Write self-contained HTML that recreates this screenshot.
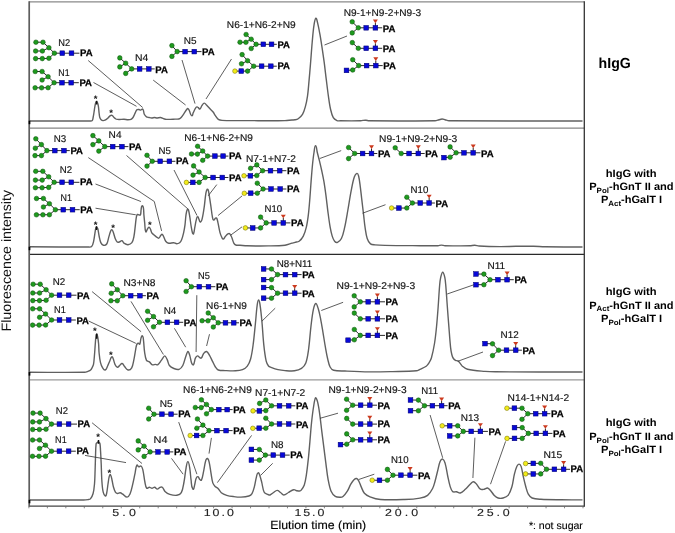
<!DOCTYPE html>
<html><head><meta charset="utf-8"><title>HPLC profiles</title>
<style>
html,body{margin:0;padding:0;background:#fff;}
body{width:675px;height:533px;overflow:hidden;}
svg{display:block;font-family:"Liberation Sans",Arial,Helvetica,sans-serif;text-rendering:geometricPrecision;}
</style></head><body>
<svg width="675" height="533" viewBox="0 0 675 533">
<rect width="675" height="533" fill="#fff"/>
<path d="M29.5,121 C49.47,121 70.04,121.13 90,121 C90.74,121 91.74,121.18 92.2,120.6 C92.97,119.64 92.93,118.2 93.2,117 C93.49,115.69 93.69,114.32 93.9,113 C94.25,110.82 94.5,108.57 94.9,106.4 C95.13,105.13 95.35,103.81 95.8,102.6 C95.93,102.25 96.24,101.72 96.6,101.8 C97.1,101.91 97.41,102.52 97.6,103 C98.02,104.07 98.23,105.26 98.4,106.4 C98.72,108.57 98.83,110.83 99.1,113 C99.29,114.49 99.33,116.07 99.8,117.5 C100.11,118.43 100.7,119.32 101.4,120 C101.81,120.39 102.44,120.57 103,120.6 C103.67,120.64 104.4,120.51 105,120.2 C106.09,119.63 107.08,118.81 108,118 C108.74,117.35 109.19,116.35 110,115.8 C110.56,115.42 111.37,115.03 112,115.3 C112.9,115.68 113.29,116.82 114,117.5 C114.58,118.05 115.2,118.62 115.9,119 C116.38,119.26 116.96,119.32 117.5,119.4 C118.09,119.49 118.71,119.51 119.3,119.5 C120.85,119.48 122.45,119.26 124,119.3 C125.33,119.33 126.67,119.7 128,119.7 C129,119.7 130.09,119.7 131,119.3 C131.81,118.94 132.48,118.22 133,117.5 C133.69,116.54 134.07,115.35 134.6,114.3 C135.35,112.81 135.77,111.03 136.9,109.8 C137.37,109.28 138.3,109.44 139,109.5 C139.56,109.55 140.04,110.16 140.6,110.1 C141.39,110.02 142.27,108.5 142.8,109.1 C143.98,110.44 143.53,112.69 144.3,114.3 C144.78,115.32 145.57,116.27 146.5,116.9 C147.2,117.38 148.17,117.32 149,117.5 C149.89,117.69 150.79,118 151.7,118 C152.67,118 153.63,117.5 154.6,117.5 C155.38,117.5 156.12,118 156.9,118 C158.1,118 159.31,117.37 160.5,117.5 C161.56,117.61 162.48,118.38 163.5,118.7 C164.47,119.01 165.48,119.36 166.5,119.4 C169.31,119.5 172.2,119.25 175,119.1 C176.59,119.02 178.42,119.48 179.8,118.7 C181.45,117.77 182.36,115.82 183.5,114.3 C184.57,112.87 185.39,111.2 186.5,109.8 C186.89,109.3 187.41,108.36 188,108.6 C188.87,108.95 189.07,110.17 189.5,111 C190.29,112.52 190.16,114.95 191.7,115.7 C192.67,116.17 192.72,113.76 193.2,112.8 C193.94,111.32 194.52,109.7 195.4,108.3 C195.76,107.73 196.24,107.06 196.9,106.9 C197.4,106.78 197.89,107.29 198.3,107.6 C198.86,108.02 199.2,109.46 199.8,109.1 C201.02,108.37 201.15,106.54 202,105.4 C202.64,104.54 203.23,103.2 204.3,103.1 C205.26,103.02 205.83,104.32 206.5,105 C207.78,106.3 208.95,107.77 210.2,109.1 C211.13,110.08 212.26,110.94 213.1,112 C213.99,113.13 214.57,114.52 215.4,115.7 C216.29,116.97 217.04,118.5 218.3,119.4 C219.33,120.13 220.74,120.33 222,120.4 C227.93,120.73 234.06,120.57 240,120.6 C251.88,120.67 264.12,120.7 276,120.7 C278.97,120.7 282.03,120.73 285,120.6 C287.32,120.5 289.69,120.18 292,120 C292.99,119.92 294.03,120 295,119.8 C296.09,119.57 297.29,119.35 298.2,118.7 C299.83,117.53 301.47,116.12 302.5,114.4 C303.86,112.14 304.6,109.45 305.3,106.9 C306.26,103.39 306.98,99.7 307.5,96.1 C308.21,91.18 308.54,86.05 309,81.1 C309.53,75.39 310.03,69.51 310.5,63.8 C311.08,56.71 311.56,49.39 312.2,42.3 C312.71,36.62 313.13,30.74 314,25.1 C314.36,22.77 314.99,18.75 315.9,18.2 C316.53,17.81 317.2,21.3 317.6,22.9 C318.49,26.43 319.15,30.12 319.8,33.7 C320.57,37.94 321.25,42.34 321.9,46.6 C322.66,51.58 323.44,56.71 324.1,61.7 C324.85,67.37 325.49,73.23 326.2,78.9 C326.91,84.58 327.59,90.44 328.4,96.1 C329.01,100.37 329.55,104.79 330.5,109 C331.17,111.94 331.83,115.07 333.3,117.7 C334.06,119.05 335.59,119.95 337,120.6 C337.9,121.02 339.01,120.79 340,120.8 C346.6,120.86 353.4,120.91 360,120.8 C361,120.78 362,120.48 363,120.4 C363.99,120.32 365.01,120.23 366,120.3 C367,120.37 368,120.79 369,120.8 C390.78,120.96 413.22,121.11 435,120.8 C436.36,120.78 437.68,120.14 439,119.8 C439.99,119.54 440.98,119.02 442,119 C443.02,118.98 444.02,119.45 445,119.7 C446.33,120.04 447.63,120.79 449,120.8 C493.05,121.22 538.45,120.93 582.5,121" fill="none" stroke="#606060" stroke-width="1.4" stroke-linejoin="round"/>
<path d="M29.5,246.8 C48.8,246.87 68.69,247.06 88,247 C89.2,247 90.76,247.45 91.6,246.6 C92.91,245.27 93.15,243.11 93.6,241.3 C94.24,238.74 94.46,236.01 94.9,233.4 C95.22,231.52 95.33,229.52 95.9,227.7 C96,227.39 96.52,227.14 96.8,227.3 C97.31,227.6 97.65,228.22 97.8,228.8 C98.42,231.13 98.59,233.64 99.1,236 C99.58,238.2 99.86,240.56 100.8,242.6 C101.32,243.72 102.2,245.01 103.4,245.3 C104.54,245.57 106.05,244.97 106.7,244 C107.97,242.11 108.04,239.58 108.7,237.4 C109.23,235.65 109.65,233.81 110.3,232.1 C110.61,231.29 110.75,229.99 111.6,229.8 C112.31,229.64 112.72,230.83 113,231.5 C113.96,233.8 114.37,236.38 115.3,238.7 C115.77,239.87 116.23,241.2 117.2,242 C117.73,242.44 118.63,242.18 119.3,242 C120.25,241.74 121.04,240.46 122,240.7 C123.02,240.96 123.12,242.61 124,243.2 C125.17,243.98 126.59,244.79 128,244.7 C129.44,244.61 131.04,243.86 131.9,242.7 C133.14,241.02 133.5,238.75 133.9,236.7 C134.66,232.82 134.9,228.73 135.4,224.8 C135.73,222.19 135.9,219.48 136.4,216.9 C136.57,216.03 136.71,214.96 137.4,214.4 C137.81,214.07 138.39,214.81 138.9,214.9 C139.39,214.98 140.2,215.35 140.4,214.9 C141.07,213.38 140.79,211.54 141.1,209.9 C141.35,208.56 141.07,206.79 142.1,205.9 C142.69,205.38 143.25,207.13 143.4,207.9 C143.85,210.17 143.7,212.59 143.9,214.9 C144.13,217.51 144.41,220.2 144.7,222.8 C145.03,225.77 144.69,229.02 145.8,231.8 C146.16,232.69 146.74,230.08 147.3,229.3 C147.8,228.59 148.15,227.44 149,227.3 C149.65,227.19 150,228.22 150.3,228.8 C150.94,230.06 151.09,231.58 151.8,232.8 C152.27,233.61 153.1,234.18 153.8,234.8 C154.59,235.5 155.43,236.21 156.3,236.8 C157.08,237.33 157.9,238.5 158.8,238.2 C159.9,237.83 160.04,236.18 160.8,235.3 C161.17,234.87 161.69,234.05 162.2,234.3 C163.04,234.71 163.28,235.87 163.7,236.7 C164.44,238.15 164.71,239.91 165.7,241.2 C166.43,242.14 167.53,242.98 168.7,243.2 C170.33,243.51 172.04,242.6 173.7,242.7 C174.74,242.77 175.66,243.7 176.7,243.7 C177.71,243.7 178.82,243.34 179.6,242.7 C180.52,241.95 181.15,240.8 181.6,239.7 C182.49,237.5 183.07,235.11 183.6,232.8 C184.2,230.19 184.64,227.46 185,224.8 C185.47,221.31 185.54,217.67 186.1,214.2 C186.37,212.51 186.65,210.69 187.5,209.2 C187.71,208.83 188.38,209.6 188.5,210 C189.16,212.19 189.43,214.54 189.8,216.8 C190.29,219.83 190.6,222.98 191.1,226 C191.49,228.32 191.82,230.75 192.5,233 C192.63,233.42 193.33,234.31 193.5,233.9 C194.33,231.84 194.36,229.48 194.8,227.3 C195.32,224.69 195.69,221.96 196.4,219.4 C196.66,218.48 196.74,216.8 197.7,216.8 C198.66,216.8 198.53,218.56 199,219.4 C199.49,220.28 199.66,222.37 200.6,222 C201.91,221.49 201.98,219.47 202.3,218.1 C203.21,214.26 203.74,210.21 204.3,206.3 C204.93,201.96 205.17,197.43 205.9,193.1 C206.13,191.76 206.39,190.29 207.2,189.2 C207.45,188.86 208.07,189.6 208.2,190 C208.79,191.86 208.98,193.88 209.3,195.8 C209.87,199.26 210.39,202.83 210.9,206.3 C211.41,209.76 211.7,213.37 212.4,216.8 C212.63,217.95 212.62,219.65 213.7,220.1 C214.52,220.44 214.72,218.53 215.5,218.1 C215.89,217.89 216.61,218 216.8,218.4 C217.55,219.93 217.73,221.74 218.1,223.4 C218.78,226.42 219.19,229.61 220,232.6 C220.48,234.37 221.17,236.16 222,237.8 C222.27,238.34 222.74,239.32 223.3,239.1 C224.31,238.7 224.58,237.31 225.3,236.5 C226.1,235.59 226.84,234.5 227.9,233.9 C228.47,233.58 229.43,233.44 229.9,233.9 C230.94,234.91 231.34,236.47 231.9,237.8 C232.63,239.51 232.92,241.47 233.8,243.1 C234.23,243.9 234.94,244.71 235.8,245 C237.11,245.45 238.62,245.1 240,245.2 C242.31,245.37 244.68,245.74 247,245.8 C254.03,245.97 261.27,246.01 268.3,245.9 C273.82,245.81 279.52,245.82 285,245.2 C287.39,244.93 289.69,243.87 292,243.2 C292.99,242.91 294.01,242.58 295,242.3 C296.35,241.92 297.98,242.04 299.1,241.2 C300.85,239.9 302.31,238.04 303.3,236.1 C304.76,233.21 305.66,229.95 306.4,226.8 C307.35,222.77 307.9,218.51 308.4,214.4 C309.06,208.97 309.45,203.35 309.9,197.9 C310.35,192.46 310.67,186.84 311.1,181.4 C311.53,175.92 311.95,170.27 312.5,164.8 C312.91,160.73 313.34,156.54 314,152.5 C314.37,150.26 314.58,145.8 315.6,145.8 C316.63,145.8 316.74,150.29 317.3,152.5 C317.99,155.21 318.74,157.99 319.4,160.7 C320.22,164.09 321.06,167.59 321.8,171 C322.54,174.42 323.32,177.95 323.9,181.4 C324.7,186.13 325.37,191.04 326,195.8 C326.72,201.24 327.28,206.86 328,212.3 C328.63,217.09 329.26,222.04 330.1,226.8 C330.65,229.9 331.26,233.1 332.2,236.1 C332.75,237.88 333.39,239.79 334.6,241.2 C335.27,241.98 336.55,242.68 337.5,242.3 C339.17,241.64 340.61,240.12 341.4,238.5 C343.03,235.16 343.77,231.32 344.6,227.7 C345.89,222.07 346.79,216.18 347.8,210.5 C348.94,204.11 349.86,197.48 351.1,191.1 C352.01,186.42 352.81,181.53 354.3,177 C354.76,175.61 355.47,173.73 356.9,173.4 C357.9,173.17 358.35,175.01 358.6,176 C359.49,179.5 359.82,183.22 360.3,186.8 C360.87,191.05 361.3,195.44 361.8,199.7 C362.39,204.68 363.01,209.82 363.6,214.8 C364.1,219.06 364.46,223.46 365.1,227.7 C365.65,231.29 366.05,235.06 367.2,238.5 C367.86,240.48 368.89,242.58 370.5,243.9 C371.68,244.86 373.49,244.74 375,244.9 C378.29,245.24 381.7,245.34 385,245.4 C396.55,245.61 408.45,245.63 420,245.7 C425.94,245.73 432.06,245.87 438,245.7 C439.14,245.67 440.26,245.08 441.4,245.1 C442.61,245.12 443.79,245.77 445,245.8 C453.25,245.97 461.75,245.84 470,245.7 C471.59,245.67 473.21,245.25 474.8,245.3 C476.2,245.35 477.6,245.93 479,246 C485.92,246.36 493.07,246.54 500,246.6 C505.28,246.64 510.72,246.35 516,246.3 C521.81,246.25 527.79,246.2 533.6,246.3 C537.37,246.36 541.23,246.75 545,246.8 C557.37,246.98 570.12,246.93 582.5,247" fill="none" stroke="#606060" stroke-width="1.4" stroke-linejoin="round"/>
<path d="M29.5,372.3 C47.72,372.3 66.49,372.61 84.7,372.3 C85.84,372.28 86.94,371.71 88,371.3 C88.89,370.95 89.89,370.64 90.6,370 C91.33,369.34 91.75,368.37 92.2,367.5 C92.71,366.51 93.29,365.49 93.5,364.4 C94.02,361.66 94.16,358.78 94.4,356 C94.75,351.98 94.97,347.82 95.3,343.8 C95.54,340.89 95.65,337.88 96.1,335 C96.15,334.65 96.58,333.93 96.8,334.2 C97.41,334.96 97.52,336.05 97.7,337 C98.12,339.22 98.4,341.55 98.6,343.8 C98.87,346.83 98.79,349.97 99.1,353 C99.42,356.19 99.74,359.49 100.5,362.6 C100.97,364.54 101.73,366.51 102.8,368.2 C103.33,369.04 104.28,370.37 105.2,370 C106.53,369.46 106.85,367.58 107.5,366.3 C108.41,364.51 109.06,362.53 109.9,360.7 C110.48,359.43 110.58,357.6 111.8,356.9 C112.47,356.51 112.89,358.08 113.2,358.8 C113.96,360.59 114.14,362.66 115,364.4 C115.55,365.51 116.18,367.04 117.4,367.3 C118.36,367.5 118.93,366.02 119.7,365.4 C120.49,364.76 121.11,363.31 122.1,363.5 C123.27,363.72 123.6,365.41 124.4,366.3 C125.54,367.56 126.33,369.66 128,370 C129.39,370.29 131,369.04 131.7,367.8 C133.08,365.36 133.31,362.34 133.9,359.6 C134.63,356.23 135.04,352.69 135.7,349.3 C136.03,347.57 136.13,345.69 136.9,344.1 C137.17,343.54 137.98,343.3 138.6,343.3 C139.08,343.3 139.6,344.53 139.8,344.1 C140.65,342.27 140.37,340.02 141,338.1 C141.27,337.27 141.85,335.31 142.5,335.9 C143.62,336.93 143.31,338.89 143.5,340.4 C144,344.28 144.02,348.33 144.6,352.2 C145.01,354.95 145.27,357.91 146.5,360.4 C146.98,361.37 148.54,361.26 149.4,361.9 C150.5,362.72 151.13,364.27 152.4,364.8 C153.32,365.18 154.4,364.4 155.4,364.4 C156.14,364.4 156.99,365.21 157.6,364.8 C159.17,363.74 160.12,361.88 161.3,360.4 C162.46,358.95 163.87,356.01 164.7,355.9 C165.36,355.81 166.55,358.28 167.2,359.6 C168.11,361.47 168.15,363.84 169.4,365.5 C170.47,366.93 172.24,367.85 173.9,368.5 C175.52,369.13 177.45,369.85 179.1,369.3 C180.76,368.74 181.99,367.05 182.8,365.5 C184.22,362.79 184.64,359.57 185.7,356.7 C186.35,354.94 187.17,351.66 188,351.5 C188.7,351.37 189.43,354.39 189.9,355.9 C190.65,358.3 190.78,360.96 191.7,363.3 C191.97,364 192.97,365.41 193.4,364.8 C194.74,362.92 194.42,360.19 195.4,358.1 C195.84,357.17 196.59,356.08 197.6,355.9 C198.36,355.77 198.74,357 199.4,357.4 C199.97,357.74 200.8,358.55 201.3,358.1 C202.51,357.01 202.5,354.98 203.5,353.7 C204.26,352.74 205.31,351.2 206.5,351.5 C208,351.88 208.59,353.88 209.4,355.2 C210.54,357.06 211.41,359.15 212.4,361.1 C213.39,363.05 214.19,365.18 215.4,367 C216.16,368.15 217.01,369.52 218.3,370 C220.38,370.78 222.78,370.5 225,370.6 C228.46,370.76 232.04,371 235.5,370.8 C237.84,370.67 240.32,370.47 242.5,369.6 C244.32,368.87 246.11,367.66 247.3,366.1 C248.87,364.05 249.92,361.49 250.6,359 C251.84,354.47 252.47,349.65 253.1,345 C254.06,337.93 254.67,330.6 255.4,323.5 C256.03,317.4 256.38,311.08 257.2,305 C257.43,303.27 257.82,300.01 258.6,299.9 C259.32,299.8 259.75,303 260,304.6 C260.84,310.05 261.38,315.71 261.9,321.2 C262.64,328.98 262.96,337.03 263.8,344.8 C264.38,350.24 265.02,355.86 266.2,361.2 C266.58,362.91 267.41,364.62 268.5,366 C269.08,366.73 270.13,366.97 271,367.3 C273.27,368.16 275.63,369.04 278,369.6 C280.27,370.14 282.67,370.43 285,370.6 C288.13,370.83 291.39,371.21 294.5,370.8 C296.92,370.48 299.49,369.79 301.5,368.4 C303.37,367.11 304.99,365.13 305.8,363 C307.36,358.9 307.89,354.34 308.5,350 C309.61,342.11 310.05,333.91 311,326 C311.66,320.5 312.25,314.81 313.4,309.4 C313.84,307.34 314.87,303.67 315.8,303.5 C316.61,303.35 317.65,306.75 318.2,308.5 C319.24,311.83 319.92,315.38 320.6,318.8 C321.5,323.33 322.23,328.04 323,332.6 C323.81,337.41 324.54,342.39 325.4,347.2 C326.1,351.11 326.78,355.14 327.7,359 C328.34,361.68 328.82,364.56 330.1,367 C330.83,368.38 332.09,369.79 333.6,370.2 C337.24,371.18 341.23,370.82 345,371 C352.95,371.38 361.14,371.8 369.1,371.9 C376.92,372 384.98,371.78 392.8,371.6 C400.59,371.42 408.64,371.46 416.4,370.8 C417.68,370.69 418.83,369.85 420,369.3 C422.07,368.33 424.35,367.54 426.2,366.2 C427.38,365.35 428.22,364.03 429,362.8 C429.95,361.3 430.91,359.7 431.4,358 C432.74,353.29 433.71,348.33 434.5,343.5 C435.39,338.09 435.96,332.46 436.5,327 C437.18,320.18 437.69,313.13 438.2,306.3 C438.71,299.51 439.01,292.49 439.6,285.7 C439.84,282.95 440.08,280.09 440.7,277.4 C441.11,275.61 441.87,272.2 442.7,272.2 C443.53,272.2 444.39,275.6 444.8,277.4 C445.42,280.09 445.56,282.95 445.8,285.7 C446.39,292.49 446.79,299.5 447.3,306.3 C447.81,313.13 448.35,320.17 448.9,327 C449.44,333.8 449.88,340.82 450.6,347.6 C450.84,349.9 451.26,352.25 451.8,354.5 C452.09,355.7 452.44,356.96 453.1,358 C453.69,358.92 454.56,359.73 455.5,360.3 C456.29,360.78 457.43,360.58 458.2,361.1 C459.11,361.71 459.7,362.75 460.4,363.6 C461.09,364.44 461.56,365.52 462.4,366.2 C463.94,367.43 465.58,368.86 467.5,369.3 C473.17,370.6 479.21,370.88 485,371.4 C488.45,371.71 492.03,371.78 495.5,371.8 C524.21,371.98 553.79,371.93 582.5,372" fill="none" stroke="#606060" stroke-width="1.4" stroke-linejoin="round"/>
<path d="M29.5,500 C47.35,500 65.75,500.12 83.6,500 C85.06,499.99 86.56,499.83 88,499.6 C88.81,499.47 89.87,499.53 90.4,498.9 C91.68,497.37 92.57,495.42 93.1,493.5 C93.94,490.44 94.23,487.16 94.5,484 C94.89,479.56 94.93,474.96 95.1,470.5 C95.26,466.05 95.33,461.45 95.5,457 C95.66,452.64 95.59,448.13 96.1,443.8 C96.16,443.27 96.79,442.94 97.2,442.6 C97.59,442.28 98.02,441.64 98.5,441.8 C99.19,442.03 99.73,442.79 99.9,443.5 C100.42,445.69 100.36,448.05 100.5,450.3 C100.79,454.75 101,459.34 101.2,463.8 C101.46,469.61 101.49,475.6 101.9,481.4 C102.15,484.98 102.39,488.7 103.2,492.2 C103.52,493.6 103.96,495.49 105.3,496 C106.17,496.33 106.4,494.41 106.6,493.5 C107.3,490.41 107.51,487.13 108,484 C108.4,481.42 108.65,478.73 109.3,476.2 C109.46,475.58 110.03,474.08 110.4,474.6 C111.48,476.12 111.56,478.2 112,480 C112.55,482.22 112.78,484.59 113.4,486.8 C113.91,488.63 114.43,490.57 115.4,492.2 C115.8,492.88 116.62,493.4 117.4,493.5 C118.31,493.62 119.19,492.68 120.1,492.8 C121.1,492.93 121.94,493.67 122.8,494.2 C124.26,495.1 125.39,497.15 127.1,497.1 C128.5,497.06 129.41,495.27 130,494 C131.21,491.38 131.72,488.4 132.4,485.6 C133.4,481.5 134.2,477.22 135.1,473.1 C135.68,470.46 135.54,467.44 136.9,465.1 C137.32,464.37 137.88,466.72 138.7,466.9 C139.5,467.07 140.32,465.55 141,466 C142.11,466.73 142.49,468.31 142.8,469.6 C143.78,473.63 144.05,477.94 144.9,482 C145.34,484.09 145.34,486.56 146.7,488.2 C147.28,488.9 148.39,487.3 149.3,487.3 C150.24,487.3 151.06,488.2 152,488.2 C152.94,488.2 153.77,487.14 154.7,487.3 C155.73,487.47 156.26,489.1 157.3,489.1 C158.37,489.1 158.99,487.66 160,487.3 C160.71,487.04 161.72,486.81 162.3,487.3 C163.66,488.46 164,490.57 165.3,491.8 C166.55,492.98 168.16,493.9 169.8,494.4 C172.06,495.08 174.56,495.65 176.9,495.3 C178.57,495.05 180.51,494.19 181.3,492.7 C183.01,489.49 183.31,485.58 184,482 C184.9,477.35 185.21,472.45 186.1,467.8 C186.5,465.71 186.94,461.6 187.9,461.6 C188.86,461.6 189.34,465.7 189.7,467.8 C190.4,471.86 190.49,476.13 191.1,480.2 C191.55,483.16 191.03,486.76 192.9,489.1 C193.88,490.33 194.25,486.2 194.7,484.7 C195.31,482.66 195.31,480.38 196.1,478.4 C196.4,477.64 197.11,476.5 197.9,476.7 C198.89,476.96 198.88,478.58 199.6,479.3 C200.07,479.77 201.1,480.79 201.4,480.2 C202.75,477.49 202.95,474.25 203.6,471.3 C204.37,467.82 204.66,464.11 205.7,460.7 C205.97,459.8 206.66,458.09 207.5,458.5 C208.76,459.11 208.87,461.03 209.2,462.4 C210.03,465.88 210.38,469.57 211,473.1 C211.57,476.34 211.83,479.76 212.8,482.9 C213.21,484.22 214.15,485.39 215.1,486.4 C215.83,487.18 217.05,487.44 217.8,488.2 C219.12,489.54 219.83,491.53 221.3,492.7 C222.85,493.93 224.81,494.71 226.7,495.3 C228.97,496.01 231.44,496.3 233.8,496.6 C236.16,496.9 238.62,497.19 241,497.1 C243.63,497 246.39,496.8 248.9,496 C250.13,495.61 251.35,494.72 252,493.6 C253.23,491.49 253.77,488.96 254.4,486.6 C255.23,483.5 255.56,480.19 256.4,477.1 C256.79,475.66 256.76,473.57 258.1,472.9 C258.99,472.45 259.44,474.47 259.8,475.4 C260.68,477.7 261.18,480.21 261.8,482.6 C262.63,485.76 262.69,489.3 264.2,492.2 C264.88,493.5 266.68,493.86 268,494.5 C268.61,494.8 269.36,495.23 270,495 C271.33,494.51 272.3,493.26 273.5,492.5 C274.68,491.74 275.8,490.4 277.2,490.4 C278.49,490.4 279.44,491.76 280.5,492.5 C281.62,493.28 282.43,495 283.8,495 C285.56,495 286.95,493.33 288.5,492.5 C290.22,491.58 291.79,490.08 293.7,489.7 C294.86,489.47 295.95,490.54 297.1,490.8 C297.88,490.97 298.72,491.13 299.5,491 C300.13,490.89 300.8,490.6 301.2,490.1 C302.43,488.56 303.67,486.87 304.3,485 C305.41,481.68 305.87,478.06 306.4,474.6 C307.23,469.18 307.82,463.55 308.4,458.1 C308.98,452.66 309.42,447.05 309.9,441.6 C310.44,435.46 310.85,429.13 311.5,423 C312.08,417.54 312.72,411.92 313.6,406.5 C314.07,403.59 314.66,398.74 315.6,397.8 C316.13,397.27 317.3,400.78 317.7,402.4 C318.7,406.43 319.22,410.69 319.8,414.8 C320.57,420.23 321.12,425.86 321.8,431.3 C322.48,436.75 323.21,442.36 323.9,447.8 C324.59,453.25 325.28,458.86 326,464.3 C326.63,469.09 327.1,474.05 328,478.8 C328.79,482.94 329.48,487.31 331.1,491.2 C331.94,493.21 333.49,495.08 335.3,496.3 C336.61,497.18 338.42,497.16 340,497.2 C341.02,497.23 342.22,497.15 343,496.5 C344.82,494.98 346.23,492.9 347.5,490.9 C348.82,488.82 349.54,486.32 350.8,484.2 C351.76,482.58 352.87,480.93 354.2,479.6 C354.79,479.01 355.69,478.28 356.5,478.5 C357.51,478.77 358.18,479.89 358.7,480.8 C359.69,482.54 360.17,484.58 361,486.4 C362.05,488.68 362.76,491.3 364.4,493.2 C365.84,494.86 367.95,496 370,496.8 C373.33,498.1 376.93,499.22 380.5,499.5 C388.46,500.12 396.72,499.78 404.7,499.5 C409.77,499.32 415.01,498.99 420,498.1 C422.62,497.63 425.48,497.01 427.6,495.4 C429.84,493.7 431.3,490.99 432.6,488.5 C433.81,486.19 434.38,483.51 435.1,481 C436.03,477.73 436.75,474.29 437.6,471 C438.4,467.89 438.84,464.55 440.1,461.6 C440.57,460.51 441.59,458.67 442.7,459.1 C444.28,459.72 444.72,461.97 445.2,463.6 C446.38,467.6 446.81,471.92 447.7,476 C448.46,479.51 449.1,483.18 450.2,486.6 C450.76,488.36 451.28,490.43 452.7,491.6 C453.67,492.4 455.27,491.57 456.5,491.8 C457.79,492.04 459.04,493.36 460.3,493 C462.27,492.44 463.77,490.67 465.3,489.3 C467.11,487.69 468.63,485.66 470.4,484 C471.31,483.15 472.15,481.66 473.4,481.7 C474.74,481.74 475.69,483.22 476.6,484.2 C478.01,485.72 478.67,488.06 480.4,489.2 C481.45,489.89 482.96,489.41 484.2,489.2 C485.34,489.01 486.37,487.77 487.5,488 C488.76,488.26 489.63,489.55 490.5,490.5 C491.88,492.01 492.84,493.96 494.3,495.4 C495.38,496.47 496.64,497.57 498.1,498 C499.68,498.47 501.5,498.42 503.1,498 C504.9,497.53 506.95,496.86 508.1,495.4 C510.02,492.96 511.02,489.77 511.9,486.8 C513.11,482.74 513.4,478.32 514.4,474.2 C515.05,471.54 515.77,468.79 516.9,466.3 C517.32,465.39 518,464.03 519,464.1 C520.1,464.18 520.85,465.56 521.2,466.6 C522.3,469.82 522.54,473.38 523.3,476.7 C524.06,480.05 524.86,483.5 525.8,486.8 C526.51,489.28 527.04,491.95 528.3,494.2 C529.17,495.75 530.46,497.33 532.1,498 C534.82,499.1 537.97,499.12 540.9,499.3 C547.52,499.71 554.37,499.7 561,499.8 C568.09,499.9 575.4,499.87 582.5,499.9" fill="none" stroke="#606060" stroke-width="1.4" stroke-linejoin="round"/>
<line x1="96.6" y1="100.8" x2="96.6" y2="104.5" stroke="#111" stroke-width="1.5"/>
<line x1="96.5" y1="226.2" x2="96.5" y2="230" stroke="#111" stroke-width="1.5"/>
<line x1="96.7" y1="333.6" x2="96.7" y2="338.8" stroke="#111" stroke-width="1.5"/>
<line x1="98.5" y1="440" x2="98.5" y2="443.8" stroke="#111" stroke-width="1.5"/>
<line x1="29.2" y1="1.8" x2="584.3" y2="1.8" stroke="#8a8a8a" stroke-width="1.2"/>
<line x1="29.2" y1="128.1" x2="584.3" y2="128.1" stroke="#858585" stroke-width="1.3"/>
<line x1="29.2" y1="254.3" x2="584.3" y2="254.3" stroke="#2a2a2a" stroke-width="1.2"/>
<line x1="29.2" y1="379.9" x2="584.3" y2="379.9" stroke="#9a9a9a" stroke-width="1.4"/>
<line x1="29.2" y1="506.2" x2="584.3" y2="506.2" stroke="#444" stroke-width="1.2"/>
<line x1="29.2" y1="1.2" x2="29.2" y2="506.8" stroke="#5e5e5e" stroke-width="1.7"/>
<line x1="29.5" y1="120.7" x2="29.5" y2="124.2" stroke="#000" stroke-width="1.7"/>
<line x1="29.5" y1="246.7" x2="29.5" y2="250.2" stroke="#000" stroke-width="1.7"/>
<line x1="29.5" y1="372.09999999999997" x2="29.5" y2="375.59999999999997" stroke="#000" stroke-width="1.7"/>
<line x1="29.5" y1="499.8" x2="29.5" y2="503.3" stroke="#000" stroke-width="1.7"/>
<line x1="584.3" y1="1.2" x2="584.3" y2="506.8" stroke="#333" stroke-width="1.3"/>
<line x1="28.9" y1="506.3" x2="28.9" y2="508.3" stroke="#666" stroke-width="0.8"/>
<line x1="47.37" y1="506.3" x2="47.37" y2="508.3" stroke="#666" stroke-width="0.8"/>
<line x1="65.84" y1="506.3" x2="65.84" y2="508.3" stroke="#666" stroke-width="0.8"/>
<line x1="84.31" y1="506.3" x2="84.31" y2="508.3" stroke="#666" stroke-width="0.8"/>
<line x1="102.78" y1="506.3" x2="102.78" y2="508.3" stroke="#666" stroke-width="0.8"/>
<line x1="121.25" y1="506.3" x2="121.25" y2="508.3" stroke="#666" stroke-width="0.8"/>
<line x1="139.72" y1="506.3" x2="139.72" y2="508.3" stroke="#666" stroke-width="0.8"/>
<line x1="158.19" y1="506.3" x2="158.19" y2="508.3" stroke="#666" stroke-width="0.8"/>
<line x1="176.66" y1="506.3" x2="176.66" y2="508.3" stroke="#666" stroke-width="0.8"/>
<line x1="195.13" y1="506.3" x2="195.13" y2="508.3" stroke="#666" stroke-width="0.8"/>
<line x1="213.6" y1="506.3" x2="213.6" y2="508.3" stroke="#666" stroke-width="0.8"/>
<line x1="232.07" y1="506.3" x2="232.07" y2="508.3" stroke="#666" stroke-width="0.8"/>
<line x1="250.54" y1="506.3" x2="250.54" y2="508.3" stroke="#666" stroke-width="0.8"/>
<line x1="269.01" y1="506.3" x2="269.01" y2="508.3" stroke="#666" stroke-width="0.8"/>
<line x1="287.48" y1="506.3" x2="287.48" y2="508.3" stroke="#666" stroke-width="0.8"/>
<line x1="305.95" y1="506.3" x2="305.95" y2="508.3" stroke="#666" stroke-width="0.8"/>
<line x1="324.42" y1="506.3" x2="324.42" y2="508.3" stroke="#666" stroke-width="0.8"/>
<line x1="342.89" y1="506.3" x2="342.89" y2="508.3" stroke="#666" stroke-width="0.8"/>
<line x1="361.36" y1="506.3" x2="361.36" y2="508.3" stroke="#666" stroke-width="0.8"/>
<line x1="379.83" y1="506.3" x2="379.83" y2="508.3" stroke="#666" stroke-width="0.8"/>
<line x1="398.3" y1="506.3" x2="398.3" y2="508.3" stroke="#666" stroke-width="0.8"/>
<line x1="416.77" y1="506.3" x2="416.77" y2="508.3" stroke="#666" stroke-width="0.8"/>
<line x1="435.24" y1="506.3" x2="435.24" y2="508.3" stroke="#666" stroke-width="0.8"/>
<line x1="453.71" y1="506.3" x2="453.71" y2="508.3" stroke="#666" stroke-width="0.8"/>
<line x1="472.18" y1="506.3" x2="472.18" y2="508.3" stroke="#666" stroke-width="0.8"/>
<line x1="490.65" y1="506.3" x2="490.65" y2="508.3" stroke="#666" stroke-width="0.8"/>
<line x1="509.12" y1="506.3" x2="509.12" y2="508.3" stroke="#666" stroke-width="0.8"/>
<line x1="527.59" y1="506.3" x2="527.59" y2="508.3" stroke="#666" stroke-width="0.8"/>
<line x1="546.06" y1="506.3" x2="546.06" y2="508.3" stroke="#666" stroke-width="0.8"/>
<line x1="564.53" y1="506.3" x2="564.53" y2="508.3" stroke="#666" stroke-width="0.8"/>
<line x1="583" y1="506.3" x2="583" y2="508.3" stroke="#666" stroke-width="0.8"/>
<text x="91.97" y="515.6" font-size="10.2" transform="scale(1.22 1)" textLength="19.51" lengthAdjust="spacing" fill="#222" stroke="#222" stroke-width="0.12">5.0</text>
<text x="166.97" y="515.6" font-size="10.2" transform="scale(1.22 1)" textLength="24.75" lengthAdjust="spacing" fill="#222" stroke="#222" stroke-width="0.12">10.0</text>
<text x="241.31" y="515.6" font-size="10.2" transform="scale(1.22 1)" textLength="24.59" lengthAdjust="spacing" fill="#222" stroke="#222" stroke-width="0.12">15.0</text>
<text x="315.49" y="515.6" font-size="10.2" transform="scale(1.22 1)" textLength="27.21" lengthAdjust="spacing" fill="#222" stroke="#222" stroke-width="0.12">20.0</text>
<text x="391.07" y="515.6" font-size="10.2" transform="scale(1.22 1)" textLength="26.72" lengthAdjust="spacing" fill="#222" stroke="#222" stroke-width="0.12">25.0</text>
<text x="270.2" y="528.7" font-size="11.8" textLength="96" lengthAdjust="spacingAndGlyphs" stroke="#000" stroke-width="0.15">Elution time (min)</text>
<text x="528.9" y="528.8" font-size="10.4" textLength="54" lengthAdjust="spacingAndGlyphs" stroke="#000" stroke-width="0.12">*: not sugar</text>
<text x="0" y="0" font-size="13.6" textLength="141.6" lengthAdjust="spacingAndGlyphs" fill="#111" transform="translate(11.3,331.5) rotate(-90)">Fluorescence intensity</text>
<text x="598.6" y="68.2" font-size="14.6" font-weight="bold" textLength="32.2" lengthAdjust="spacingAndGlyphs">hIgG</text>
<text x="605.8" y="176.5" font-size="10.6" font-weight="bold" textLength="50.8" lengthAdjust="spacingAndGlyphs">hIgG with</text>
<text x="589.2" y="190.1" font-size="10.6" font-weight="bold" textLength="84.4" lengthAdjust="spacingAndGlyphs">P<tspan font-size="7.6" dy="2.8">Pol</tspan><tspan dy="-2.8">-hGnT II and</tspan></text>
<text x="601" y="203.4" font-size="10.6" font-weight="bold" textLength="61.2" lengthAdjust="spacingAndGlyphs">P<tspan font-size="7.6" dy="2.8">Act</tspan><tspan dy="-2.8">-hGalT I</tspan></text>
<text x="605.8" y="294.9" font-size="10.6" font-weight="bold" textLength="50.8" lengthAdjust="spacingAndGlyphs">hIgG with</text>
<text x="589.2" y="308.5" font-size="10.6" font-weight="bold" textLength="84.4" lengthAdjust="spacingAndGlyphs">P<tspan font-size="7.6" dy="2.8">Act</tspan><tspan dy="-2.8">-hGnT II and</tspan></text>
<text x="601" y="321.8" font-size="10.6" font-weight="bold" textLength="61.2" lengthAdjust="spacingAndGlyphs">P<tspan font-size="7.6" dy="2.8">Pol</tspan><tspan dy="-2.8">-hGalT I</tspan></text>
<text x="605.8" y="426.2" font-size="10.6" font-weight="bold" textLength="50.8" lengthAdjust="spacingAndGlyphs">hIgG with</text>
<text x="589.2" y="439.8" font-size="10.6" font-weight="bold" textLength="84.4" lengthAdjust="spacingAndGlyphs">P<tspan font-size="7.6" dy="2.8">Pol</tspan><tspan dy="-2.8">-hGnT II and</tspan></text>
<text x="601" y="453.1" font-size="10.6" font-weight="bold" textLength="61.2" lengthAdjust="spacingAndGlyphs">P<tspan font-size="7.6" dy="2.8">Pol</tspan><tspan dy="-2.8">-hGalT I</tspan></text>
<path d="M88.2,60.5 L142.7,107.5" fill="none" stroke="#333" stroke-width="0.8"/>
<path d="M93.5,82.5 L136.5,106.3" fill="none" stroke="#333" stroke-width="0.8"/>
<path d="M153.2,80.1 L185.6,105" fill="none" stroke="#333" stroke-width="0.8"/>
<path d="M182,60 L195,103.6" fill="none" stroke="#333" stroke-width="0.8"/>
<path d="M231.5,59 L206,99" fill="none" stroke="#333" stroke-width="0.8"/>
<path d="M347,36 L324.5,45" fill="none" stroke="#333" stroke-width="0.8"/>
<text x="95.5" y="101.5" font-size="9.5" font-weight="bold" text-anchor="middle" fill="#111">*</text>
<text x="111.1" y="116.1" font-size="9.5" font-weight="bold" text-anchor="middle" fill="#111">*</text>
<text x="58.3" y="45.9" font-size="9.8" textLength="11.9" lengthAdjust="spacingAndGlyphs" fill="#111" stroke="#111" stroke-width="0.15">N2</text>
<text x="58.3" y="76.3" font-size="9.8" textLength="11.3" lengthAdjust="spacingAndGlyphs" fill="#111" stroke="#111" stroke-width="0.15">N1</text>
<text x="134.9" y="60.5" font-size="9.8" textLength="13.3" lengthAdjust="spacingAndGlyphs" fill="#111" stroke="#111" stroke-width="0.15">N4</text>
<text x="183.8" y="44" font-size="9.8" textLength="12.8" lengthAdjust="spacingAndGlyphs" fill="#111" stroke="#111" stroke-width="0.15">N5</text>
<text x="226.8" y="27.8" font-size="9.8" textLength="68.9" lengthAdjust="spacingAndGlyphs" fill="#111" stroke="#111" stroke-width="0.15">N6-1+N6-2+N9</text>
<text x="343.7" y="15.5" font-size="9.8" textLength="77.5" lengthAdjust="spacingAndGlyphs" fill="#111" stroke="#111" stroke-width="0.15">N9-1+N9-2+N9-3</text>
<line x1="54.4" y1="53.2" x2="48.9" y2="47.7" stroke="#111" stroke-width="0.9"/>
<line x1="48.9" y1="47.7" x2="43" y2="42.2" stroke="#111" stroke-width="0.9"/>
<line x1="43" y1="42.2" x2="35.9" y2="42.2" stroke="#111" stroke-width="0.9"/>
<line x1="48.9" y1="47.7" x2="42.4" y2="51" stroke="#111" stroke-width="0.9"/>
<line x1="42.4" y1="51" x2="35.6" y2="51" stroke="#111" stroke-width="0.9"/>
<line x1="54.4" y1="53.2" x2="48.9" y2="58.3" stroke="#111" stroke-width="0.9"/>
<line x1="48.9" y1="58.3" x2="42.3" y2="58.6" stroke="#111" stroke-width="0.9"/>
<line x1="42.3" y1="58.6" x2="35.6" y2="58.6" stroke="#111" stroke-width="0.9"/>
<line x1="54.4" y1="53.2" x2="79.4" y2="53.2" stroke="#111" stroke-width="0.9"/>
<circle cx="48.9" cy="47.7" r="2.3" fill="#1e9a1e" stroke="#0a4f0a" stroke-width="0.5"/>
<circle cx="43" cy="42.2" r="2.3" fill="#1e9a1e" stroke="#0a4f0a" stroke-width="0.5"/>
<circle cx="35.9" cy="42.2" r="2.3" fill="#1e9a1e" stroke="#0a4f0a" stroke-width="0.5"/>
<circle cx="42.4" cy="51" r="2.3" fill="#1e9a1e" stroke="#0a4f0a" stroke-width="0.5"/>
<circle cx="35.6" cy="51" r="2.3" fill="#1e9a1e" stroke="#0a4f0a" stroke-width="0.5"/>
<circle cx="48.9" cy="58.3" r="2.3" fill="#1e9a1e" stroke="#0a4f0a" stroke-width="0.5"/>
<circle cx="42.3" cy="58.6" r="2.3" fill="#1e9a1e" stroke="#0a4f0a" stroke-width="0.5"/>
<circle cx="35.6" cy="58.6" r="2.3" fill="#1e9a1e" stroke="#0a4f0a" stroke-width="0.5"/>
<circle cx="54.4" cy="53.2" r="2.3" fill="#1e9a1e" stroke="#0a4f0a" stroke-width="0.5"/>
<rect x="59.95" y="50.85" width="4.7" height="4.7" fill="#0808d8" stroke="#00006e" stroke-width="0.5"/>
<rect x="69.15" y="50.85" width="4.7" height="4.7" fill="#0808d8" stroke="#00006e" stroke-width="0.5"/>
<text x="80" y="56.2" font-size="9.5" font-weight="bold" textLength="12.6" lengthAdjust="spacingAndGlyphs" stroke="#000" stroke-width="0.25">PA</text>
<line x1="54.1" y1="82.7" x2="48.1" y2="76.7" stroke="#111" stroke-width="0.9"/>
<line x1="48.1" y1="76.7" x2="42.1" y2="71.5" stroke="#111" stroke-width="0.9"/>
<line x1="42.1" y1="71.5" x2="35.2" y2="71.5" stroke="#111" stroke-width="0.9"/>
<line x1="48.1" y1="76.7" x2="42.1" y2="80" stroke="#111" stroke-width="0.9"/>
<line x1="54.1" y1="82.7" x2="48.1" y2="87.7" stroke="#111" stroke-width="0.9"/>
<line x1="48.1" y1="87.7" x2="41.6" y2="87.8" stroke="#111" stroke-width="0.9"/>
<line x1="41.6" y1="87.8" x2="35.1" y2="87.8" stroke="#111" stroke-width="0.9"/>
<line x1="54.1" y1="82.7" x2="78.8" y2="82.7" stroke="#111" stroke-width="0.9"/>
<circle cx="48.1" cy="76.7" r="2.3" fill="#1e9a1e" stroke="#0a4f0a" stroke-width="0.5"/>
<circle cx="42.1" cy="71.5" r="2.3" fill="#1e9a1e" stroke="#0a4f0a" stroke-width="0.5"/>
<circle cx="35.2" cy="71.5" r="2.3" fill="#1e9a1e" stroke="#0a4f0a" stroke-width="0.5"/>
<circle cx="42.1" cy="80" r="2.3" fill="#1e9a1e" stroke="#0a4f0a" stroke-width="0.5"/>
<circle cx="48.1" cy="87.7" r="2.3" fill="#1e9a1e" stroke="#0a4f0a" stroke-width="0.5"/>
<circle cx="41.6" cy="87.8" r="2.3" fill="#1e9a1e" stroke="#0a4f0a" stroke-width="0.5"/>
<circle cx="35.1" cy="87.8" r="2.3" fill="#1e9a1e" stroke="#0a4f0a" stroke-width="0.5"/>
<circle cx="54.1" cy="82.7" r="2.3" fill="#1e9a1e" stroke="#0a4f0a" stroke-width="0.5"/>
<rect x="59.65" y="80.35" width="4.7" height="4.7" fill="#0808d8" stroke="#00006e" stroke-width="0.5"/>
<rect x="68.85" y="80.35" width="4.7" height="4.7" fill="#0808d8" stroke="#00006e" stroke-width="0.5"/>
<text x="79.4" y="86.1" font-size="9.5" font-weight="bold" textLength="12.6" lengthAdjust="spacingAndGlyphs" stroke="#000" stroke-width="0.25">PA</text>
<line x1="131.7" y1="68.9" x2="125.7" y2="63.2" stroke="#111" stroke-width="0.9"/>
<line x1="125.7" y1="63.2" x2="119.8" y2="57.9" stroke="#111" stroke-width="0.9"/>
<line x1="125.7" y1="63.2" x2="119.8" y2="66.9" stroke="#111" stroke-width="0.9"/>
<line x1="131.7" y1="68.9" x2="125.7" y2="73.4" stroke="#111" stroke-width="0.9"/>
<line x1="131.7" y1="68.9" x2="154.7" y2="68.9" stroke="#111" stroke-width="0.9"/>
<circle cx="125.7" cy="63.2" r="2.3" fill="#1e9a1e" stroke="#0a4f0a" stroke-width="0.5"/>
<circle cx="119.8" cy="57.9" r="2.3" fill="#1e9a1e" stroke="#0a4f0a" stroke-width="0.5"/>
<circle cx="119.8" cy="66.9" r="2.3" fill="#1e9a1e" stroke="#0a4f0a" stroke-width="0.5"/>
<circle cx="125.7" cy="73.4" r="2.3" fill="#1e9a1e" stroke="#0a4f0a" stroke-width="0.5"/>
<circle cx="131.7" cy="68.9" r="2.3" fill="#1e9a1e" stroke="#0a4f0a" stroke-width="0.5"/>
<rect x="137.25" y="66.55" width="4.7" height="4.7" fill="#0808d8" stroke="#00006e" stroke-width="0.5"/>
<rect x="146.45" y="66.55" width="4.7" height="4.7" fill="#0808d8" stroke="#00006e" stroke-width="0.5"/>
<text x="155.3" y="72.5" font-size="9.5" font-weight="bold" textLength="12.6" lengthAdjust="spacingAndGlyphs" stroke="#000" stroke-width="0.25">PA</text>
<line x1="177.2" y1="51.6" x2="171.9" y2="45.6" stroke="#111" stroke-width="0.9"/>
<line x1="177.2" y1="51.6" x2="171.9" y2="56.4" stroke="#111" stroke-width="0.9"/>
<line x1="177.2" y1="51.6" x2="201.5" y2="51.6" stroke="#111" stroke-width="0.9"/>
<circle cx="171.9" cy="45.6" r="2.3" fill="#1e9a1e" stroke="#0a4f0a" stroke-width="0.5"/>
<circle cx="171.9" cy="56.4" r="2.3" fill="#1e9a1e" stroke="#0a4f0a" stroke-width="0.5"/>
<circle cx="177.2" cy="51.6" r="2.3" fill="#1e9a1e" stroke="#0a4f0a" stroke-width="0.5"/>
<rect x="182.75" y="49.25" width="4.7" height="4.7" fill="#0808d8" stroke="#00006e" stroke-width="0.5"/>
<rect x="191.95" y="49.25" width="4.7" height="4.7" fill="#0808d8" stroke="#00006e" stroke-width="0.5"/>
<text x="202.1" y="54.7" font-size="9.5" font-weight="bold" textLength="12.6" lengthAdjust="spacingAndGlyphs" stroke="#000" stroke-width="0.25">PA</text>
<line x1="256.1" y1="44.3" x2="251.2" y2="39.2" stroke="#111" stroke-width="0.9"/>
<line x1="251.2" y1="39.2" x2="246.1" y2="34.5" stroke="#111" stroke-width="0.9"/>
<line x1="251.2" y1="39.2" x2="245.9" y2="42.3" stroke="#111" stroke-width="0.9"/>
<line x1="245.9" y1="42.3" x2="240" y2="42.2" stroke="#111" stroke-width="0.9"/>
<line x1="256.1" y1="44.3" x2="251.2" y2="48.5" stroke="#111" stroke-width="0.9"/>
<line x1="256.1" y1="44.3" x2="276.8" y2="44.3" stroke="#111" stroke-width="0.9"/>
<circle cx="251.2" cy="39.2" r="2.3" fill="#1e9a1e" stroke="#0a4f0a" stroke-width="0.5"/>
<circle cx="246.1" cy="34.5" r="2.3" fill="#1e9a1e" stroke="#0a4f0a" stroke-width="0.5"/>
<circle cx="245.9" cy="42.3" r="2.3" fill="#1e9a1e" stroke="#0a4f0a" stroke-width="0.5"/>
<circle cx="240" cy="42.2" r="2.3" fill="#1e9a1e" stroke="#0a4f0a" stroke-width="0.5"/>
<circle cx="251.2" cy="48.5" r="2.3" fill="#1e9a1e" stroke="#0a4f0a" stroke-width="0.5"/>
<circle cx="256.1" cy="44.3" r="2.3" fill="#1e9a1e" stroke="#0a4f0a" stroke-width="0.5"/>
<rect x="260.99" y="41.95" width="4.7" height="4.7" fill="#0808d8" stroke="#00006e" stroke-width="0.5"/>
<rect x="269.19" y="41.95" width="4.7" height="4.7" fill="#0808d8" stroke="#00006e" stroke-width="0.5"/>
<text x="277.4" y="47.7" font-size="9.5" font-weight="bold" textLength="12.6" lengthAdjust="spacingAndGlyphs" stroke="#000" stroke-width="0.25">PA</text>
<line x1="253.7" y1="66.2" x2="247.6" y2="60.7" stroke="#111" stroke-width="0.9"/>
<line x1="247.6" y1="60.7" x2="242.1" y2="54.6" stroke="#111" stroke-width="0.9"/>
<line x1="247.6" y1="60.7" x2="241.5" y2="63.8" stroke="#111" stroke-width="0.9"/>
<line x1="253.7" y1="66.2" x2="247.6" y2="71.1" stroke="#111" stroke-width="0.9"/>
<line x1="247.6" y1="71.1" x2="241.3" y2="71.1" stroke="#111" stroke-width="0.9"/>
<line x1="241.3" y1="71.1" x2="234.9" y2="71.1" stroke="#111" stroke-width="0.9"/>
<line x1="253.7" y1="66.2" x2="276.8" y2="66.2" stroke="#111" stroke-width="0.9"/>
<circle cx="247.6" cy="60.7" r="2.3" fill="#1e9a1e" stroke="#0a4f0a" stroke-width="0.5"/>
<circle cx="242.1" cy="54.6" r="2.3" fill="#1e9a1e" stroke="#0a4f0a" stroke-width="0.5"/>
<circle cx="241.5" cy="63.8" r="2.3" fill="#1e9a1e" stroke="#0a4f0a" stroke-width="0.5"/>
<circle cx="247.6" cy="71.1" r="2.3" fill="#1e9a1e" stroke="#0a4f0a" stroke-width="0.5"/>
<rect x="238.95" y="68.75" width="4.7" height="4.7" fill="#0808d8" stroke="#00006e" stroke-width="0.5"/>
<circle cx="234.9" cy="71.1" r="2.3" fill="#f2ec1a" stroke="#6e6800" stroke-width="0.5"/>
<circle cx="253.7" cy="66.2" r="2.3" fill="#1e9a1e" stroke="#0a4f0a" stroke-width="0.5"/>
<rect x="259.25" y="63.85" width="4.7" height="4.7" fill="#0808d8" stroke="#00006e" stroke-width="0.5"/>
<rect x="268.45" y="63.85" width="4.7" height="4.7" fill="#0808d8" stroke="#00006e" stroke-width="0.5"/>
<text x="277.4" y="69.3" font-size="9.5" font-weight="bold" textLength="12.6" lengthAdjust="spacingAndGlyphs" stroke="#000" stroke-width="0.25">PA</text>
<line x1="358.3" y1="27.8" x2="352.2" y2="21.8" stroke="#111" stroke-width="0.9"/>
<line x1="358.3" y1="27.8" x2="352.2" y2="32.9" stroke="#111" stroke-width="0.9"/>
<line x1="358.3" y1="27.8" x2="382.2" y2="27.8" stroke="#111" stroke-width="0.9"/>
<line x1="375.4" y1="27.8" x2="375.4" y2="22.8" stroke="#111" stroke-width="0.9"/>
<circle cx="352.2" cy="21.8" r="2.3" fill="#1e9a1e" stroke="#0a4f0a" stroke-width="0.5"/>
<circle cx="352.2" cy="32.9" r="2.3" fill="#1e9a1e" stroke="#0a4f0a" stroke-width="0.5"/>
<circle cx="358.3" cy="27.8" r="2.3" fill="#1e9a1e" stroke="#0a4f0a" stroke-width="0.5"/>
<rect x="363.85" y="25.45" width="4.7" height="4.7" fill="#0808d8" stroke="#00006e" stroke-width="0.5"/>
<rect x="373.05" y="25.45" width="4.7" height="4.7" fill="#0808d8" stroke="#00006e" stroke-width="0.5"/>
<polygon points="372.9,19.55 377.9,19.55 375.4,23.25" fill="#cc3a1e"/>
<text x="382.8" y="31.5" font-size="9.5" font-weight="bold" textLength="12.6" lengthAdjust="spacingAndGlyphs" stroke="#000" stroke-width="0.25">PA</text>
<line x1="358.3" y1="48.3" x2="352.3" y2="42.6" stroke="#111" stroke-width="0.9"/>
<line x1="358.3" y1="48.3" x2="382.2" y2="48.3" stroke="#111" stroke-width="0.9"/>
<line x1="375.4" y1="48.3" x2="375.4" y2="43.3" stroke="#111" stroke-width="0.9"/>
<circle cx="352.3" cy="42.6" r="2.3" fill="#1e9a1e" stroke="#0a4f0a" stroke-width="0.5"/>
<circle cx="358.3" cy="48.3" r="2.3" fill="#1e9a1e" stroke="#0a4f0a" stroke-width="0.5"/>
<rect x="363.85" y="45.95" width="4.7" height="4.7" fill="#0808d8" stroke="#00006e" stroke-width="0.5"/>
<rect x="373.05" y="45.95" width="4.7" height="4.7" fill="#0808d8" stroke="#00006e" stroke-width="0.5"/>
<polygon points="372.9,40.05 377.9,40.05 375.4,43.75" fill="#cc3a1e"/>
<text x="382.8" y="51.6" font-size="9.5" font-weight="bold" textLength="12.6" lengthAdjust="spacingAndGlyphs" stroke="#000" stroke-width="0.25">PA</text>
<line x1="358.7" y1="65.6" x2="352.7" y2="59.7" stroke="#111" stroke-width="0.9"/>
<line x1="358.7" y1="65.6" x2="352.7" y2="70" stroke="#111" stroke-width="0.9"/>
<line x1="352.7" y1="70" x2="346.5" y2="70.4" stroke="#111" stroke-width="0.9"/>
<line x1="358.7" y1="65.6" x2="382.7" y2="65.6" stroke="#111" stroke-width="0.9"/>
<line x1="375.8" y1="65.6" x2="375.8" y2="60.6" stroke="#111" stroke-width="0.9"/>
<circle cx="352.7" cy="59.7" r="2.3" fill="#1e9a1e" stroke="#0a4f0a" stroke-width="0.5"/>
<circle cx="352.7" cy="70" r="2.3" fill="#1e9a1e" stroke="#0a4f0a" stroke-width="0.5"/>
<rect x="344.15" y="68.05" width="4.7" height="4.7" fill="#0808d8" stroke="#00006e" stroke-width="0.5"/>
<circle cx="358.7" cy="65.6" r="2.3" fill="#1e9a1e" stroke="#0a4f0a" stroke-width="0.5"/>
<rect x="364.25" y="63.25" width="4.7" height="4.7" fill="#0808d8" stroke="#00006e" stroke-width="0.5"/>
<rect x="373.45" y="63.25" width="4.7" height="4.7" fill="#0808d8" stroke="#00006e" stroke-width="0.5"/>
<polygon points="373.3,57.35 378.3,57.35 375.8,61.05" fill="#cc3a1e"/>
<text x="383.3" y="69" font-size="9.5" font-weight="bold" textLength="12.6" lengthAdjust="spacingAndGlyphs" stroke="#000" stroke-width="0.25">PA</text>
<path d="M95.5,208.2 L135.8,214.8" fill="none" stroke="#333" stroke-width="0.8"/>
<path d="M95.5,184 L140.9,201.5" fill="none" stroke="#333" stroke-width="0.8"/>
<path d="M88.3,157.6 L154.3,201.5 L161.6,230.9" fill="none" stroke="#333" stroke-width="0.8"/>
<path d="M126.5,155.5 L187.9,208.9" fill="none" stroke="#333" stroke-width="0.8"/>
<path d="M174,170 L197,215.5" fill="none" stroke="#333" stroke-width="0.8"/>
<path d="M216.8,184.6 L208.2,195.8" fill="none" stroke="#333" stroke-width="0.8"/>
<path d="M242.1,195.9 L218.1,215.5" fill="none" stroke="#333" stroke-width="0.8"/>
<path d="M242.1,226.8 L230.6,235.2" fill="none" stroke="#333" stroke-width="0.8"/>
<path d="M341.2,150.6 L319.8,158.5" fill="none" stroke="#333" stroke-width="0.8"/>
<path d="M385.5,204.7 L362.6,213.2" fill="none" stroke="#333" stroke-width="0.8"/>
<text x="95.5" y="227.5" font-size="9.5" font-weight="bold" text-anchor="middle" fill="#111">*</text>
<text x="113" y="230.8" font-size="9.5" font-weight="bold" text-anchor="middle" fill="#111">*</text>
<text x="149.8" y="228.2" font-size="9.5" font-weight="bold" text-anchor="middle" fill="#111">*</text>
<text x="53.8" y="141.6" font-size="9.8" textLength="12.5" lengthAdjust="spacingAndGlyphs" fill="#111" stroke="#111" stroke-width="0.15">N3</text>
<text x="59.7" y="172.8" font-size="9.8" textLength="12.3" lengthAdjust="spacingAndGlyphs" fill="#111" stroke="#111" stroke-width="0.15">N2</text>
<text x="60.6" y="200.7" font-size="9.8" textLength="11.4" lengthAdjust="spacingAndGlyphs" fill="#111" stroke="#111" stroke-width="0.15">N1</text>
<text x="108.6" y="137.5" font-size="9.8" textLength="12.9" lengthAdjust="spacingAndGlyphs" fill="#111" stroke="#111" stroke-width="0.15">N4</text>
<text x="158.5" y="154" font-size="9.8" textLength="12.4" lengthAdjust="spacingAndGlyphs" fill="#111" stroke="#111" stroke-width="0.15">N5</text>
<text x="184.3" y="141.1" font-size="9.8" textLength="68.6" lengthAdjust="spacingAndGlyphs" fill="#111" stroke="#111" stroke-width="0.15">N6-1+N6-2+N9</text>
<text x="246" y="161.6" font-size="9.8" textLength="50" lengthAdjust="spacingAndGlyphs" fill="#111" stroke="#111" stroke-width="0.15">N7-1+N7-2</text>
<text x="264.6" y="211.6" font-size="9.8" textLength="17.6" lengthAdjust="spacingAndGlyphs" fill="#111" stroke="#111" stroke-width="0.15">N10</text>
<text x="379.1" y="141.6" font-size="9.8" textLength="78.2" lengthAdjust="spacingAndGlyphs" fill="#111" stroke="#111" stroke-width="0.15">N9-1+N9-2+N9-3</text>
<text x="410.5" y="192.8" font-size="9.8" textLength="17.8" lengthAdjust="spacingAndGlyphs" fill="#111" stroke="#111" stroke-width="0.15">N10</text>
<line x1="46.9" y1="150.6" x2="41.4" y2="144.6" stroke="#111" stroke-width="0.9"/>
<line x1="41.4" y1="144.6" x2="35.8" y2="138.8" stroke="#111" stroke-width="0.9"/>
<line x1="41.4" y1="144.6" x2="35.3" y2="148.2" stroke="#111" stroke-width="0.9"/>
<line x1="46.9" y1="150.6" x2="41.4" y2="155.6" stroke="#111" stroke-width="0.9"/>
<line x1="41.4" y1="155.6" x2="35" y2="155.6" stroke="#111" stroke-width="0.9"/>
<line x1="46.9" y1="150.6" x2="69.8" y2="150.6" stroke="#111" stroke-width="0.9"/>
<circle cx="41.4" cy="144.6" r="2.3" fill="#1e9a1e" stroke="#0a4f0a" stroke-width="0.5"/>
<circle cx="35.8" cy="138.8" r="2.3" fill="#1e9a1e" stroke="#0a4f0a" stroke-width="0.5"/>
<circle cx="35.3" cy="148.2" r="2.3" fill="#1e9a1e" stroke="#0a4f0a" stroke-width="0.5"/>
<circle cx="41.4" cy="155.6" r="2.3" fill="#1e9a1e" stroke="#0a4f0a" stroke-width="0.5"/>
<circle cx="35" cy="155.6" r="2.3" fill="#1e9a1e" stroke="#0a4f0a" stroke-width="0.5"/>
<circle cx="46.9" cy="150.6" r="2.3" fill="#1e9a1e" stroke="#0a4f0a" stroke-width="0.5"/>
<rect x="52.45" y="148.25" width="4.7" height="4.7" fill="#0808d8" stroke="#00006e" stroke-width="0.5"/>
<rect x="61.59" y="148.25" width="4.7" height="4.7" fill="#0808d8" stroke="#00006e" stroke-width="0.5"/>
<text x="70.4" y="154.4" font-size="9.5" font-weight="bold" textLength="12.6" lengthAdjust="spacingAndGlyphs" stroke="#000" stroke-width="0.25">PA</text>
<line x1="54.2" y1="182.3" x2="48.7" y2="176.8" stroke="#111" stroke-width="0.9"/>
<line x1="48.7" y1="176.8" x2="42.8" y2="171.3" stroke="#111" stroke-width="0.9"/>
<line x1="42.8" y1="171.3" x2="35.7" y2="171.3" stroke="#111" stroke-width="0.9"/>
<line x1="48.7" y1="176.8" x2="42.2" y2="180.1" stroke="#111" stroke-width="0.9"/>
<line x1="42.2" y1="180.1" x2="35.4" y2="180.1" stroke="#111" stroke-width="0.9"/>
<line x1="54.2" y1="182.3" x2="48.7" y2="187.4" stroke="#111" stroke-width="0.9"/>
<line x1="48.7" y1="187.4" x2="42.1" y2="187.7" stroke="#111" stroke-width="0.9"/>
<line x1="42.1" y1="187.7" x2="35.4" y2="187.7" stroke="#111" stroke-width="0.9"/>
<line x1="54.2" y1="182.3" x2="79.4" y2="182.3" stroke="#111" stroke-width="0.9"/>
<circle cx="48.7" cy="176.8" r="2.3" fill="#1e9a1e" stroke="#0a4f0a" stroke-width="0.5"/>
<circle cx="42.8" cy="171.3" r="2.3" fill="#1e9a1e" stroke="#0a4f0a" stroke-width="0.5"/>
<circle cx="35.7" cy="171.3" r="2.3" fill="#1e9a1e" stroke="#0a4f0a" stroke-width="0.5"/>
<circle cx="42.2" cy="180.1" r="2.3" fill="#1e9a1e" stroke="#0a4f0a" stroke-width="0.5"/>
<circle cx="35.4" cy="180.1" r="2.3" fill="#1e9a1e" stroke="#0a4f0a" stroke-width="0.5"/>
<circle cx="48.7" cy="187.4" r="2.3" fill="#1e9a1e" stroke="#0a4f0a" stroke-width="0.5"/>
<circle cx="42.1" cy="187.7" r="2.3" fill="#1e9a1e" stroke="#0a4f0a" stroke-width="0.5"/>
<circle cx="35.4" cy="187.7" r="2.3" fill="#1e9a1e" stroke="#0a4f0a" stroke-width="0.5"/>
<circle cx="54.2" cy="182.3" r="2.3" fill="#1e9a1e" stroke="#0a4f0a" stroke-width="0.5"/>
<rect x="59.75" y="179.95" width="4.7" height="4.7" fill="#0808d8" stroke="#00006e" stroke-width="0.5"/>
<rect x="68.95" y="179.95" width="4.7" height="4.7" fill="#0808d8" stroke="#00006e" stroke-width="0.5"/>
<text x="80" y="185.3" font-size="9.5" font-weight="bold" textLength="12.6" lengthAdjust="spacingAndGlyphs" stroke="#000" stroke-width="0.25">PA</text>
<line x1="55.4" y1="209.7" x2="49.4" y2="203.7" stroke="#111" stroke-width="0.9"/>
<line x1="49.4" y1="203.7" x2="43.4" y2="198.5" stroke="#111" stroke-width="0.9"/>
<line x1="43.4" y1="198.5" x2="36.5" y2="198.5" stroke="#111" stroke-width="0.9"/>
<line x1="49.4" y1="203.7" x2="43.4" y2="207" stroke="#111" stroke-width="0.9"/>
<line x1="55.4" y1="209.7" x2="49.4" y2="214.7" stroke="#111" stroke-width="0.9"/>
<line x1="49.4" y1="214.7" x2="42.9" y2="214.8" stroke="#111" stroke-width="0.9"/>
<line x1="42.9" y1="214.8" x2="36.4" y2="214.8" stroke="#111" stroke-width="0.9"/>
<line x1="55.4" y1="209.7" x2="79.7" y2="209.7" stroke="#111" stroke-width="0.9"/>
<circle cx="49.4" cy="203.7" r="2.3" fill="#1e9a1e" stroke="#0a4f0a" stroke-width="0.5"/>
<circle cx="43.4" cy="198.5" r="2.3" fill="#1e9a1e" stroke="#0a4f0a" stroke-width="0.5"/>
<circle cx="36.5" cy="198.5" r="2.3" fill="#1e9a1e" stroke="#0a4f0a" stroke-width="0.5"/>
<circle cx="43.4" cy="207" r="2.3" fill="#1e9a1e" stroke="#0a4f0a" stroke-width="0.5"/>
<circle cx="49.4" cy="214.7" r="2.3" fill="#1e9a1e" stroke="#0a4f0a" stroke-width="0.5"/>
<circle cx="42.9" cy="214.8" r="2.3" fill="#1e9a1e" stroke="#0a4f0a" stroke-width="0.5"/>
<circle cx="36.4" cy="214.8" r="2.3" fill="#1e9a1e" stroke="#0a4f0a" stroke-width="0.5"/>
<circle cx="55.4" cy="209.7" r="2.3" fill="#1e9a1e" stroke="#0a4f0a" stroke-width="0.5"/>
<rect x="60.95" y="207.35" width="4.7" height="4.7" fill="#0808d8" stroke="#00006e" stroke-width="0.5"/>
<rect x="70.15" y="207.35" width="4.7" height="4.7" fill="#0808d8" stroke="#00006e" stroke-width="0.5"/>
<text x="80.3" y="213.1" font-size="9.5" font-weight="bold" textLength="12.6" lengthAdjust="spacingAndGlyphs" stroke="#000" stroke-width="0.25">PA</text>
<line x1="104.8" y1="146.6" x2="98.8" y2="140.9" stroke="#111" stroke-width="0.9"/>
<line x1="98.8" y1="140.9" x2="92.9" y2="135.6" stroke="#111" stroke-width="0.9"/>
<line x1="98.8" y1="140.9" x2="92.9" y2="144.6" stroke="#111" stroke-width="0.9"/>
<line x1="104.8" y1="146.6" x2="98.8" y2="151.1" stroke="#111" stroke-width="0.9"/>
<line x1="104.8" y1="146.6" x2="128.4" y2="146.6" stroke="#111" stroke-width="0.9"/>
<circle cx="98.8" cy="140.9" r="2.3" fill="#1e9a1e" stroke="#0a4f0a" stroke-width="0.5"/>
<circle cx="92.9" cy="135.6" r="2.3" fill="#1e9a1e" stroke="#0a4f0a" stroke-width="0.5"/>
<circle cx="92.9" cy="144.6" r="2.3" fill="#1e9a1e" stroke="#0a4f0a" stroke-width="0.5"/>
<circle cx="98.8" cy="151.1" r="2.3" fill="#1e9a1e" stroke="#0a4f0a" stroke-width="0.5"/>
<circle cx="104.8" cy="146.6" r="2.3" fill="#1e9a1e" stroke="#0a4f0a" stroke-width="0.5"/>
<rect x="110.35" y="144.25" width="4.7" height="4.7" fill="#0808d8" stroke="#00006e" stroke-width="0.5"/>
<rect x="119.55" y="144.25" width="4.7" height="4.7" fill="#0808d8" stroke="#00006e" stroke-width="0.5"/>
<text x="129" y="150.3" font-size="9.5" font-weight="bold" textLength="12.6" lengthAdjust="spacingAndGlyphs" stroke="#000" stroke-width="0.25">PA</text>
<line x1="152.3" y1="161.3" x2="147" y2="155.3" stroke="#111" stroke-width="0.9"/>
<line x1="152.3" y1="161.3" x2="147" y2="166.1" stroke="#111" stroke-width="0.9"/>
<line x1="152.3" y1="161.3" x2="175.4" y2="161.3" stroke="#111" stroke-width="0.9"/>
<circle cx="147" cy="155.3" r="2.3" fill="#1e9a1e" stroke="#0a4f0a" stroke-width="0.5"/>
<circle cx="147" cy="166.1" r="2.3" fill="#1e9a1e" stroke="#0a4f0a" stroke-width="0.5"/>
<circle cx="152.3" cy="161.3" r="2.3" fill="#1e9a1e" stroke="#0a4f0a" stroke-width="0.5"/>
<rect x="157.85" y="158.95" width="4.7" height="4.7" fill="#0808d8" stroke="#00006e" stroke-width="0.5"/>
<rect x="167.05" y="158.95" width="4.7" height="4.7" fill="#0808d8" stroke="#00006e" stroke-width="0.5"/>
<text x="176" y="164.3" font-size="9.5" font-weight="bold" textLength="12.6" lengthAdjust="spacingAndGlyphs" stroke="#000" stroke-width="0.25">PA</text>
<line x1="207.6" y1="156.1" x2="202.7" y2="151" stroke="#111" stroke-width="0.9"/>
<line x1="202.7" y1="151" x2="197.6" y2="146.3" stroke="#111" stroke-width="0.9"/>
<line x1="202.7" y1="151" x2="197.4" y2="154.1" stroke="#111" stroke-width="0.9"/>
<line x1="197.4" y1="154.1" x2="191.5" y2="154" stroke="#111" stroke-width="0.9"/>
<line x1="207.6" y1="156.1" x2="202.7" y2="160.3" stroke="#111" stroke-width="0.9"/>
<line x1="207.6" y1="156.1" x2="228.4" y2="156.1" stroke="#111" stroke-width="0.9"/>
<circle cx="202.7" cy="151" r="2.3" fill="#1e9a1e" stroke="#0a4f0a" stroke-width="0.5"/>
<circle cx="197.6" cy="146.3" r="2.3" fill="#1e9a1e" stroke="#0a4f0a" stroke-width="0.5"/>
<circle cx="197.4" cy="154.1" r="2.3" fill="#1e9a1e" stroke="#0a4f0a" stroke-width="0.5"/>
<circle cx="191.5" cy="154" r="2.3" fill="#1e9a1e" stroke="#0a4f0a" stroke-width="0.5"/>
<circle cx="202.7" cy="160.3" r="2.3" fill="#1e9a1e" stroke="#0a4f0a" stroke-width="0.5"/>
<circle cx="207.6" cy="156.1" r="2.3" fill="#1e9a1e" stroke="#0a4f0a" stroke-width="0.5"/>
<rect x="212.53" y="153.75" width="4.7" height="4.7" fill="#0808d8" stroke="#00006e" stroke-width="0.5"/>
<rect x="220.77" y="153.75" width="4.7" height="4.7" fill="#0808d8" stroke="#00006e" stroke-width="0.5"/>
<text x="229" y="159.1" font-size="9.5" font-weight="bold" textLength="12.6" lengthAdjust="spacingAndGlyphs" stroke="#000" stroke-width="0.25">PA</text>
<line x1="205.2" y1="177.5" x2="199.1" y2="172" stroke="#111" stroke-width="0.9"/>
<line x1="199.1" y1="172" x2="193.6" y2="165.9" stroke="#111" stroke-width="0.9"/>
<line x1="199.1" y1="172" x2="193" y2="175.1" stroke="#111" stroke-width="0.9"/>
<line x1="205.2" y1="177.5" x2="199.1" y2="182.4" stroke="#111" stroke-width="0.9"/>
<line x1="199.1" y1="182.4" x2="192.8" y2="182.4" stroke="#111" stroke-width="0.9"/>
<line x1="192.8" y1="182.4" x2="186.4" y2="182.4" stroke="#111" stroke-width="0.9"/>
<line x1="205.2" y1="177.5" x2="228.4" y2="177.5" stroke="#111" stroke-width="0.9"/>
<circle cx="199.1" cy="172" r="2.3" fill="#1e9a1e" stroke="#0a4f0a" stroke-width="0.5"/>
<circle cx="193.6" cy="165.9" r="2.3" fill="#1e9a1e" stroke="#0a4f0a" stroke-width="0.5"/>
<circle cx="193" cy="175.1" r="2.3" fill="#1e9a1e" stroke="#0a4f0a" stroke-width="0.5"/>
<circle cx="199.1" cy="182.4" r="2.3" fill="#1e9a1e" stroke="#0a4f0a" stroke-width="0.5"/>
<rect x="190.45" y="180.05" width="4.7" height="4.7" fill="#0808d8" stroke="#00006e" stroke-width="0.5"/>
<circle cx="186.4" cy="182.4" r="2.3" fill="#f2ec1a" stroke="#6e6800" stroke-width="0.5"/>
<circle cx="205.2" cy="177.5" r="2.3" fill="#1e9a1e" stroke="#0a4f0a" stroke-width="0.5"/>
<rect x="210.75" y="175.15" width="4.7" height="4.7" fill="#0808d8" stroke="#00006e" stroke-width="0.5"/>
<rect x="219.95" y="175.15" width="4.7" height="4.7" fill="#0808d8" stroke="#00006e" stroke-width="0.5"/>
<text x="229" y="180.5" font-size="9.5" font-weight="bold" textLength="12.6" lengthAdjust="spacingAndGlyphs" stroke="#000" stroke-width="0.25">PA</text>
<line x1="262.6" y1="170.7" x2="256.8" y2="164.9" stroke="#111" stroke-width="0.9"/>
<line x1="256.8" y1="164.9" x2="250.6" y2="168.3" stroke="#111" stroke-width="0.9"/>
<line x1="262.6" y1="170.7" x2="256.8" y2="175.5" stroke="#111" stroke-width="0.9"/>
<line x1="256.8" y1="175.5" x2="250.4" y2="175.8" stroke="#111" stroke-width="0.9"/>
<line x1="250.4" y1="175.8" x2="244" y2="175.8" stroke="#111" stroke-width="0.9"/>
<line x1="262.6" y1="170.7" x2="286.4" y2="170.7" stroke="#111" stroke-width="0.9"/>
<circle cx="256.8" cy="164.9" r="2.3" fill="#1e9a1e" stroke="#0a4f0a" stroke-width="0.5"/>
<circle cx="250.6" cy="168.3" r="2.3" fill="#1e9a1e" stroke="#0a4f0a" stroke-width="0.5"/>
<circle cx="256.8" cy="175.5" r="2.3" fill="#1e9a1e" stroke="#0a4f0a" stroke-width="0.5"/>
<rect x="248.05" y="173.45" width="4.7" height="4.7" fill="#0808d8" stroke="#00006e" stroke-width="0.5"/>
<circle cx="244" cy="175.8" r="2.3" fill="#f2ec1a" stroke="#6e6800" stroke-width="0.5"/>
<circle cx="262.6" cy="170.7" r="2.3" fill="#1e9a1e" stroke="#0a4f0a" stroke-width="0.5"/>
<rect x="268.15" y="168.35" width="4.7" height="4.7" fill="#0808d8" stroke="#00006e" stroke-width="0.5"/>
<rect x="277.35" y="168.35" width="4.7" height="4.7" fill="#0808d8" stroke="#00006e" stroke-width="0.5"/>
<text x="287" y="174.4" font-size="9.5" font-weight="bold" textLength="12.6" lengthAdjust="spacingAndGlyphs" stroke="#000" stroke-width="0.25">PA</text>
<line x1="263.1" y1="189" x2="257.3" y2="183.2" stroke="#111" stroke-width="0.9"/>
<line x1="263.1" y1="189" x2="257.3" y2="193.2" stroke="#111" stroke-width="0.9"/>
<line x1="257.3" y1="193.2" x2="250.7" y2="193.2" stroke="#111" stroke-width="0.9"/>
<line x1="250.7" y1="193.2" x2="244.3" y2="193.3" stroke="#111" stroke-width="0.9"/>
<line x1="263.1" y1="189" x2="286.4" y2="189" stroke="#111" stroke-width="0.9"/>
<circle cx="257.3" cy="183.2" r="2.3" fill="#1e9a1e" stroke="#0a4f0a" stroke-width="0.5"/>
<circle cx="257.3" cy="193.2" r="2.3" fill="#1e9a1e" stroke="#0a4f0a" stroke-width="0.5"/>
<rect x="248.35" y="190.85" width="4.7" height="4.7" fill="#0808d8" stroke="#00006e" stroke-width="0.5"/>
<circle cx="244.3" cy="193.3" r="2.3" fill="#f2ec1a" stroke="#6e6800" stroke-width="0.5"/>
<circle cx="263.1" cy="189" r="2.3" fill="#1e9a1e" stroke="#0a4f0a" stroke-width="0.5"/>
<rect x="268.65" y="186.65" width="4.7" height="4.7" fill="#0808d8" stroke="#00006e" stroke-width="0.5"/>
<rect x="277.85" y="186.65" width="4.7" height="4.7" fill="#0808d8" stroke="#00006e" stroke-width="0.5"/>
<text x="287" y="192.4" font-size="9.5" font-weight="bold" textLength="12.6" lengthAdjust="spacingAndGlyphs" stroke="#000" stroke-width="0.25">PA</text>
<line x1="266.2" y1="222.9" x2="260.6" y2="217.1" stroke="#111" stroke-width="0.9"/>
<line x1="266.2" y1="222.9" x2="260.6" y2="227.9" stroke="#111" stroke-width="0.9"/>
<line x1="260.6" y1="227.9" x2="252.7" y2="228" stroke="#111" stroke-width="0.9"/>
<line x1="252.7" y1="228" x2="245.4" y2="227.9" stroke="#111" stroke-width="0.9"/>
<line x1="266.2" y1="222.9" x2="290.4" y2="222.9" stroke="#111" stroke-width="0.9"/>
<line x1="283.3" y1="222.9" x2="283.3" y2="217.9" stroke="#111" stroke-width="0.9"/>
<circle cx="260.6" cy="217.1" r="2.3" fill="#1e9a1e" stroke="#0a4f0a" stroke-width="0.5"/>
<circle cx="260.6" cy="227.9" r="2.3" fill="#1e9a1e" stroke="#0a4f0a" stroke-width="0.5"/>
<rect x="250.35" y="225.65" width="4.7" height="4.7" fill="#0808d8" stroke="#00006e" stroke-width="0.5"/>
<circle cx="245.4" cy="227.9" r="2.3" fill="#f2ec1a" stroke="#6e6800" stroke-width="0.5"/>
<circle cx="266.2" cy="222.9" r="2.3" fill="#1e9a1e" stroke="#0a4f0a" stroke-width="0.5"/>
<rect x="271.75" y="220.55" width="4.7" height="4.7" fill="#0808d8" stroke="#00006e" stroke-width="0.5"/>
<rect x="280.95" y="220.55" width="4.7" height="4.7" fill="#0808d8" stroke="#00006e" stroke-width="0.5"/>
<polygon points="280.8,214.65 285.8,214.65 283.3,218.35" fill="#cc3a1e"/>
<text x="291" y="226.3" font-size="9.5" font-weight="bold" textLength="12.6" lengthAdjust="spacingAndGlyphs" stroke="#000" stroke-width="0.25">PA</text>
<line x1="354.7" y1="153.5" x2="348.6" y2="147.5" stroke="#111" stroke-width="0.9"/>
<line x1="354.7" y1="153.5" x2="348.6" y2="158.6" stroke="#111" stroke-width="0.9"/>
<line x1="354.7" y1="153.5" x2="377.3" y2="153.5" stroke="#111" stroke-width="0.9"/>
<line x1="371.52" y1="153.5" x2="371.52" y2="148.5" stroke="#111" stroke-width="0.9"/>
<circle cx="348.6" cy="147.5" r="2.3" fill="#1e9a1e" stroke="#0a4f0a" stroke-width="0.5"/>
<circle cx="348.6" cy="158.6" r="2.3" fill="#1e9a1e" stroke="#0a4f0a" stroke-width="0.5"/>
<circle cx="354.7" cy="153.5" r="2.3" fill="#1e9a1e" stroke="#0a4f0a" stroke-width="0.5"/>
<rect x="360.24" y="151.15" width="4.7" height="4.7" fill="#0808d8" stroke="#00006e" stroke-width="0.5"/>
<rect x="369.17" y="151.15" width="4.7" height="4.7" fill="#0808d8" stroke="#00006e" stroke-width="0.5"/>
<polygon points="369.02,145.25 374.02,145.25 371.52,148.95" fill="#cc3a1e"/>
<text x="377.9" y="157.2" font-size="9.5" font-weight="bold" textLength="12.6" lengthAdjust="spacingAndGlyphs" stroke="#000" stroke-width="0.25">PA</text>
<line x1="401.2" y1="153.5" x2="395.2" y2="147.8" stroke="#111" stroke-width="0.9"/>
<line x1="401.2" y1="153.5" x2="424.7" y2="153.5" stroke="#111" stroke-width="0.9"/>
<line x1="418.3" y1="153.5" x2="418.3" y2="148.5" stroke="#111" stroke-width="0.9"/>
<circle cx="395.2" cy="147.8" r="2.3" fill="#1e9a1e" stroke="#0a4f0a" stroke-width="0.5"/>
<circle cx="401.2" cy="153.5" r="2.3" fill="#1e9a1e" stroke="#0a4f0a" stroke-width="0.5"/>
<rect x="406.75" y="151.15" width="4.7" height="4.7" fill="#0808d8" stroke="#00006e" stroke-width="0.5"/>
<rect x="415.95" y="151.15" width="4.7" height="4.7" fill="#0808d8" stroke="#00006e" stroke-width="0.5"/>
<polygon points="415.8,145.25 420.8,145.25 418.3,148.95" fill="#cc3a1e"/>
<text x="425.3" y="157.2" font-size="9.5" font-weight="bold" textLength="12.6" lengthAdjust="spacingAndGlyphs" stroke="#000" stroke-width="0.25">PA</text>
<line x1="456.1" y1="152.8" x2="450.1" y2="146.9" stroke="#111" stroke-width="0.9"/>
<line x1="456.1" y1="152.8" x2="450.1" y2="157.2" stroke="#111" stroke-width="0.9"/>
<line x1="450.1" y1="157.2" x2="443.9" y2="157.6" stroke="#111" stroke-width="0.9"/>
<line x1="456.1" y1="152.8" x2="480.4" y2="152.8" stroke="#111" stroke-width="0.9"/>
<line x1="473.2" y1="152.8" x2="473.2" y2="147.8" stroke="#111" stroke-width="0.9"/>
<circle cx="450.1" cy="146.9" r="2.3" fill="#1e9a1e" stroke="#0a4f0a" stroke-width="0.5"/>
<circle cx="450.1" cy="157.2" r="2.3" fill="#1e9a1e" stroke="#0a4f0a" stroke-width="0.5"/>
<rect x="441.55" y="155.25" width="4.7" height="4.7" fill="#0808d8" stroke="#00006e" stroke-width="0.5"/>
<circle cx="456.1" cy="152.8" r="2.3" fill="#1e9a1e" stroke="#0a4f0a" stroke-width="0.5"/>
<rect x="461.65" y="150.45" width="4.7" height="4.7" fill="#0808d8" stroke="#00006e" stroke-width="0.5"/>
<rect x="470.85" y="150.45" width="4.7" height="4.7" fill="#0808d8" stroke="#00006e" stroke-width="0.5"/>
<polygon points="470.7,144.55 475.7,144.55 473.2,148.25" fill="#cc3a1e"/>
<text x="481" y="157.2" font-size="9.5" font-weight="bold" textLength="12.6" lengthAdjust="spacingAndGlyphs" stroke="#000" stroke-width="0.25">PA</text>
<line x1="412.4" y1="203" x2="406.8" y2="197.2" stroke="#111" stroke-width="0.9"/>
<line x1="412.4" y1="203" x2="406.8" y2="208" stroke="#111" stroke-width="0.9"/>
<line x1="406.8" y1="208" x2="398.9" y2="208.1" stroke="#111" stroke-width="0.9"/>
<line x1="398.9" y1="208.1" x2="391.6" y2="208" stroke="#111" stroke-width="0.9"/>
<line x1="412.4" y1="203" x2="434.9" y2="203" stroke="#111" stroke-width="0.9"/>
<line x1="429.15" y1="203" x2="429.15" y2="198" stroke="#111" stroke-width="0.9"/>
<circle cx="406.8" cy="197.2" r="2.3" fill="#1e9a1e" stroke="#0a4f0a" stroke-width="0.5"/>
<circle cx="406.8" cy="208" r="2.3" fill="#1e9a1e" stroke="#0a4f0a" stroke-width="0.5"/>
<rect x="396.55" y="205.75" width="4.7" height="4.7" fill="#0808d8" stroke="#00006e" stroke-width="0.5"/>
<circle cx="391.6" cy="208" r="2.3" fill="#f2ec1a" stroke="#6e6800" stroke-width="0.5"/>
<circle cx="412.4" cy="203" r="2.3" fill="#1e9a1e" stroke="#0a4f0a" stroke-width="0.5"/>
<rect x="417.9" y="200.65" width="4.7" height="4.7" fill="#0808d8" stroke="#00006e" stroke-width="0.5"/>
<rect x="426.8" y="200.65" width="4.7" height="4.7" fill="#0808d8" stroke="#00006e" stroke-width="0.5"/>
<polygon points="426.65,194.75 431.65,194.75 429.15,198.45" fill="#cc3a1e"/>
<text x="435.5" y="206.6" font-size="9.5" font-weight="bold" textLength="12.6" lengthAdjust="spacingAndGlyphs" stroke="#000" stroke-width="0.25">PA</text>
<path d="M92.1,291.6 L141.1,331.7" fill="none" stroke="#333" stroke-width="0.8"/>
<path d="M88.6,321 L135.8,343.3" fill="none" stroke="#333" stroke-width="0.8"/>
<path d="M131,301.4 L163.4,354.5" fill="none" stroke="#333" stroke-width="0.8"/>
<path d="M174.4,328.3 L185.7,347.2" fill="none" stroke="#333" stroke-width="0.8"/>
<path d="M196.8,295.2 L196.1,352" fill="none" stroke="#333" stroke-width="0.8"/>
<path d="M209.5,334.2 L206.6,346" fill="none" stroke="#333" stroke-width="0.8"/>
<path d="M275.2,308.2 L261.9,321.2" fill="none" stroke="#333" stroke-width="0.8"/>
<path d="M343.1,302.3 L321.3,310.5" fill="none" stroke="#333" stroke-width="0.8"/>
<path d="M474.1,284.7 L447.2,294" fill="none" stroke="#333" stroke-width="0.8"/>
<path d="M483,352 L457.8,361.3" fill="none" stroke="#333" stroke-width="0.8"/>
<text x="94.9" y="333.9" font-size="9.5" font-weight="bold" text-anchor="middle" fill="#111">*</text>
<text x="110.8" y="358.1" font-size="9.5" font-weight="bold" text-anchor="middle" fill="#111">*</text>
<text x="52.8" y="285" font-size="9.8" textLength="12.5" lengthAdjust="spacingAndGlyphs" fill="#111" stroke="#111" stroke-width="0.15">N2</text>
<text x="54" y="312.9" font-size="9.8" textLength="11.8" lengthAdjust="spacingAndGlyphs" fill="#111" stroke="#111" stroke-width="0.15">N1</text>
<text x="123.5" y="286.2" font-size="9.8" textLength="32" lengthAdjust="spacingAndGlyphs" fill="#111" stroke="#111" stroke-width="0.15">N3+N8</text>
<text x="163.7" y="313.6" font-size="9.8" textLength="12.6" lengthAdjust="spacingAndGlyphs" fill="#111" stroke="#111" stroke-width="0.15">N4</text>
<text x="198" y="279.1" font-size="9.8" textLength="11.8" lengthAdjust="spacingAndGlyphs" fill="#111" stroke="#111" stroke-width="0.15">N5</text>
<text x="206.1" y="308.5" font-size="9.8" textLength="40.7" lengthAdjust="spacingAndGlyphs" fill="#111" stroke="#111" stroke-width="0.15">N6-1+N9</text>
<text x="276.8" y="266.8" font-size="9.8" textLength="35.5" lengthAdjust="spacingAndGlyphs" fill="#111" stroke="#111" stroke-width="0.15">N8+N11</text>
<text x="336.5" y="289.3" font-size="9.8" textLength="78.7" lengthAdjust="spacingAndGlyphs" fill="#111" stroke="#111" stroke-width="0.15">N9-1+N9-2+N9-3</text>
<text x="487.5" y="268.9" font-size="9.8" textLength="17.6" lengthAdjust="spacingAndGlyphs" fill="#111" stroke="#111" stroke-width="0.15">N11</text>
<text x="500.6" y="337.6" font-size="9.8" textLength="18.1" lengthAdjust="spacingAndGlyphs" fill="#111" stroke="#111" stroke-width="0.15">N12</text>
<line x1="51.6" y1="295.2" x2="46.1" y2="289.7" stroke="#111" stroke-width="0.9"/>
<line x1="46.1" y1="289.7" x2="40.2" y2="284.2" stroke="#111" stroke-width="0.9"/>
<line x1="40.2" y1="284.2" x2="33.1" y2="284.2" stroke="#111" stroke-width="0.9"/>
<line x1="46.1" y1="289.7" x2="39.6" y2="293" stroke="#111" stroke-width="0.9"/>
<line x1="39.6" y1="293" x2="32.8" y2="293" stroke="#111" stroke-width="0.9"/>
<line x1="51.6" y1="295.2" x2="46.1" y2="300.3" stroke="#111" stroke-width="0.9"/>
<line x1="46.1" y1="300.3" x2="39.5" y2="300.6" stroke="#111" stroke-width="0.9"/>
<line x1="39.5" y1="300.6" x2="32.8" y2="300.6" stroke="#111" stroke-width="0.9"/>
<line x1="51.6" y1="295.2" x2="76.5" y2="295.2" stroke="#111" stroke-width="0.9"/>
<circle cx="46.1" cy="289.7" r="2.3" fill="#1e9a1e" stroke="#0a4f0a" stroke-width="0.5"/>
<circle cx="40.2" cy="284.2" r="2.3" fill="#1e9a1e" stroke="#0a4f0a" stroke-width="0.5"/>
<circle cx="33.1" cy="284.2" r="2.3" fill="#1e9a1e" stroke="#0a4f0a" stroke-width="0.5"/>
<circle cx="39.6" cy="293" r="2.3" fill="#1e9a1e" stroke="#0a4f0a" stroke-width="0.5"/>
<circle cx="32.8" cy="293" r="2.3" fill="#1e9a1e" stroke="#0a4f0a" stroke-width="0.5"/>
<circle cx="46.1" cy="300.3" r="2.3" fill="#1e9a1e" stroke="#0a4f0a" stroke-width="0.5"/>
<circle cx="39.5" cy="300.6" r="2.3" fill="#1e9a1e" stroke="#0a4f0a" stroke-width="0.5"/>
<circle cx="32.8" cy="300.6" r="2.3" fill="#1e9a1e" stroke="#0a4f0a" stroke-width="0.5"/>
<circle cx="51.6" cy="295.2" r="2.3" fill="#1e9a1e" stroke="#0a4f0a" stroke-width="0.5"/>
<rect x="57.15" y="292.85" width="4.7" height="4.7" fill="#0808d8" stroke="#00006e" stroke-width="0.5"/>
<rect x="66.35" y="292.85" width="4.7" height="4.7" fill="#0808d8" stroke="#00006e" stroke-width="0.5"/>
<text x="77.1" y="298.6" font-size="9.5" font-weight="bold" textLength="12.6" lengthAdjust="spacingAndGlyphs" stroke="#000" stroke-width="0.25">PA</text>
<line x1="51.6" y1="320" x2="45.6" y2="314" stroke="#111" stroke-width="0.9"/>
<line x1="45.6" y1="314" x2="39.6" y2="308.8" stroke="#111" stroke-width="0.9"/>
<line x1="39.6" y1="308.8" x2="32.7" y2="308.8" stroke="#111" stroke-width="0.9"/>
<line x1="45.6" y1="314" x2="39.6" y2="317.3" stroke="#111" stroke-width="0.9"/>
<line x1="51.6" y1="320" x2="45.6" y2="325" stroke="#111" stroke-width="0.9"/>
<line x1="45.6" y1="325" x2="39.1" y2="325.1" stroke="#111" stroke-width="0.9"/>
<line x1="39.1" y1="325.1" x2="32.6" y2="325.1" stroke="#111" stroke-width="0.9"/>
<line x1="51.6" y1="320" x2="75.8" y2="320" stroke="#111" stroke-width="0.9"/>
<circle cx="45.6" cy="314" r="2.3" fill="#1e9a1e" stroke="#0a4f0a" stroke-width="0.5"/>
<circle cx="39.6" cy="308.8" r="2.3" fill="#1e9a1e" stroke="#0a4f0a" stroke-width="0.5"/>
<circle cx="32.7" cy="308.8" r="2.3" fill="#1e9a1e" stroke="#0a4f0a" stroke-width="0.5"/>
<circle cx="39.6" cy="317.3" r="2.3" fill="#1e9a1e" stroke="#0a4f0a" stroke-width="0.5"/>
<circle cx="45.6" cy="325" r="2.3" fill="#1e9a1e" stroke="#0a4f0a" stroke-width="0.5"/>
<circle cx="39.1" cy="325.1" r="2.3" fill="#1e9a1e" stroke="#0a4f0a" stroke-width="0.5"/>
<circle cx="32.6" cy="325.1" r="2.3" fill="#1e9a1e" stroke="#0a4f0a" stroke-width="0.5"/>
<circle cx="51.6" cy="320" r="2.3" fill="#1e9a1e" stroke="#0a4f0a" stroke-width="0.5"/>
<rect x="57.15" y="317.65" width="4.7" height="4.7" fill="#0808d8" stroke="#00006e" stroke-width="0.5"/>
<rect x="66.35" y="317.65" width="4.7" height="4.7" fill="#0808d8" stroke="#00006e" stroke-width="0.5"/>
<text x="76.4" y="323.6" font-size="9.5" font-weight="bold" textLength="12.6" lengthAdjust="spacingAndGlyphs" stroke="#000" stroke-width="0.25">PA</text>
<line x1="122.8" y1="295.7" x2="117.3" y2="289.7" stroke="#111" stroke-width="0.9"/>
<line x1="117.3" y1="289.7" x2="111.7" y2="283.9" stroke="#111" stroke-width="0.9"/>
<line x1="117.3" y1="289.7" x2="111.2" y2="293.3" stroke="#111" stroke-width="0.9"/>
<line x1="122.8" y1="295.7" x2="117.3" y2="300.7" stroke="#111" stroke-width="0.9"/>
<line x1="117.3" y1="300.7" x2="110.9" y2="300.7" stroke="#111" stroke-width="0.9"/>
<line x1="122.8" y1="295.7" x2="145.9" y2="295.7" stroke="#111" stroke-width="0.9"/>
<circle cx="117.3" cy="289.7" r="2.3" fill="#1e9a1e" stroke="#0a4f0a" stroke-width="0.5"/>
<circle cx="111.7" cy="283.9" r="2.3" fill="#1e9a1e" stroke="#0a4f0a" stroke-width="0.5"/>
<circle cx="111.2" cy="293.3" r="2.3" fill="#1e9a1e" stroke="#0a4f0a" stroke-width="0.5"/>
<circle cx="117.3" cy="300.7" r="2.3" fill="#1e9a1e" stroke="#0a4f0a" stroke-width="0.5"/>
<circle cx="110.9" cy="300.7" r="2.3" fill="#1e9a1e" stroke="#0a4f0a" stroke-width="0.5"/>
<circle cx="122.8" cy="295.7" r="2.3" fill="#1e9a1e" stroke="#0a4f0a" stroke-width="0.5"/>
<rect x="128.35" y="293.35" width="4.7" height="4.7" fill="#0808d8" stroke="#00006e" stroke-width="0.5"/>
<rect x="137.55" y="293.35" width="4.7" height="4.7" fill="#0808d8" stroke="#00006e" stroke-width="0.5"/>
<text x="146.5" y="299.2" font-size="9.5" font-weight="bold" textLength="12.6" lengthAdjust="spacingAndGlyphs" stroke="#000" stroke-width="0.25">PA</text>
<line x1="159.5" y1="322.3" x2="153.5" y2="316.6" stroke="#111" stroke-width="0.9"/>
<line x1="153.5" y1="316.6" x2="147.6" y2="311.3" stroke="#111" stroke-width="0.9"/>
<line x1="153.5" y1="316.6" x2="147.6" y2="320.3" stroke="#111" stroke-width="0.9"/>
<line x1="159.5" y1="322.3" x2="153.5" y2="326.8" stroke="#111" stroke-width="0.9"/>
<line x1="159.5" y1="322.3" x2="183.2" y2="322.3" stroke="#111" stroke-width="0.9"/>
<circle cx="153.5" cy="316.6" r="2.3" fill="#1e9a1e" stroke="#0a4f0a" stroke-width="0.5"/>
<circle cx="147.6" cy="311.3" r="2.3" fill="#1e9a1e" stroke="#0a4f0a" stroke-width="0.5"/>
<circle cx="147.6" cy="320.3" r="2.3" fill="#1e9a1e" stroke="#0a4f0a" stroke-width="0.5"/>
<circle cx="153.5" cy="326.8" r="2.3" fill="#1e9a1e" stroke="#0a4f0a" stroke-width="0.5"/>
<circle cx="159.5" cy="322.3" r="2.3" fill="#1e9a1e" stroke="#0a4f0a" stroke-width="0.5"/>
<rect x="165.05" y="319.95" width="4.7" height="4.7" fill="#0808d8" stroke="#00006e" stroke-width="0.5"/>
<rect x="174.25" y="319.95" width="4.7" height="4.7" fill="#0808d8" stroke="#00006e" stroke-width="0.5"/>
<text x="183.8" y="325.9" font-size="9.5" font-weight="bold" textLength="12.6" lengthAdjust="spacingAndGlyphs" stroke="#000" stroke-width="0.25">PA</text>
<line x1="191.4" y1="286.7" x2="186.1" y2="280.7" stroke="#111" stroke-width="0.9"/>
<line x1="191.4" y1="286.7" x2="186.1" y2="291.5" stroke="#111" stroke-width="0.9"/>
<line x1="191.4" y1="286.7" x2="215.3" y2="286.7" stroke="#111" stroke-width="0.9"/>
<circle cx="186.1" cy="280.7" r="2.3" fill="#1e9a1e" stroke="#0a4f0a" stroke-width="0.5"/>
<circle cx="186.1" cy="291.5" r="2.3" fill="#1e9a1e" stroke="#0a4f0a" stroke-width="0.5"/>
<circle cx="191.4" cy="286.7" r="2.3" fill="#1e9a1e" stroke="#0a4f0a" stroke-width="0.5"/>
<rect x="196.95" y="284.35" width="4.7" height="4.7" fill="#0808d8" stroke="#00006e" stroke-width="0.5"/>
<rect x="206.15" y="284.35" width="4.7" height="4.7" fill="#0808d8" stroke="#00006e" stroke-width="0.5"/>
<text x="215.9" y="290" font-size="9.5" font-weight="bold" textLength="12.6" lengthAdjust="spacingAndGlyphs" stroke="#000" stroke-width="0.25">PA</text>
<line x1="218.2" y1="322.8" x2="213.3" y2="317.7" stroke="#111" stroke-width="0.9"/>
<line x1="213.3" y1="317.7" x2="208.2" y2="313" stroke="#111" stroke-width="0.9"/>
<line x1="213.3" y1="317.7" x2="208" y2="320.8" stroke="#111" stroke-width="0.9"/>
<line x1="208" y1="320.8" x2="202.1" y2="320.7" stroke="#111" stroke-width="0.9"/>
<line x1="218.2" y1="322.8" x2="213.3" y2="327" stroke="#111" stroke-width="0.9"/>
<line x1="218.2" y1="322.8" x2="239" y2="322.8" stroke="#111" stroke-width="0.9"/>
<circle cx="213.3" cy="317.7" r="2.3" fill="#1e9a1e" stroke="#0a4f0a" stroke-width="0.5"/>
<circle cx="208.2" cy="313" r="2.3" fill="#1e9a1e" stroke="#0a4f0a" stroke-width="0.5"/>
<circle cx="208" cy="320.8" r="2.3" fill="#1e9a1e" stroke="#0a4f0a" stroke-width="0.5"/>
<circle cx="202.1" cy="320.7" r="2.3" fill="#1e9a1e" stroke="#0a4f0a" stroke-width="0.5"/>
<circle cx="213.3" cy="327" r="2.3" fill="#1e9a1e" stroke="#0a4f0a" stroke-width="0.5"/>
<circle cx="218.2" cy="322.8" r="2.3" fill="#1e9a1e" stroke="#0a4f0a" stroke-width="0.5"/>
<rect x="223.13" y="320.45" width="4.7" height="4.7" fill="#0808d8" stroke="#00006e" stroke-width="0.5"/>
<rect x="231.37" y="320.45" width="4.7" height="4.7" fill="#0808d8" stroke="#00006e" stroke-width="0.5"/>
<text x="239.6" y="325.9" font-size="9.5" font-weight="bold" textLength="12.6" lengthAdjust="spacingAndGlyphs" stroke="#000" stroke-width="0.25">PA</text>
<line x1="277.6" y1="274.6" x2="271.5" y2="269" stroke="#111" stroke-width="0.9"/>
<line x1="271.5" y1="269" x2="263.6" y2="268.9" stroke="#111" stroke-width="0.9"/>
<line x1="277.6" y1="274.6" x2="271.5" y2="279.6" stroke="#111" stroke-width="0.9"/>
<line x1="271.5" y1="279.6" x2="263.6" y2="279.6" stroke="#111" stroke-width="0.9"/>
<line x1="277.6" y1="274.6" x2="301.6" y2="274.6" stroke="#111" stroke-width="0.9"/>
<circle cx="271.5" cy="269" r="2.3" fill="#1e9a1e" stroke="#0a4f0a" stroke-width="0.5"/>
<rect x="261.25" y="266.55" width="4.7" height="4.7" fill="#0808d8" stroke="#00006e" stroke-width="0.5"/>
<circle cx="271.5" cy="279.6" r="2.3" fill="#1e9a1e" stroke="#0a4f0a" stroke-width="0.5"/>
<rect x="261.25" y="277.25" width="4.7" height="4.7" fill="#0808d8" stroke="#00006e" stroke-width="0.5"/>
<circle cx="277.6" cy="274.6" r="2.3" fill="#1e9a1e" stroke="#0a4f0a" stroke-width="0.5"/>
<rect x="283.15" y="272.25" width="4.7" height="4.7" fill="#0808d8" stroke="#00006e" stroke-width="0.5"/>
<rect x="292.35" y="272.25" width="4.7" height="4.7" fill="#0808d8" stroke="#00006e" stroke-width="0.5"/>
<text x="302.2" y="278.3" font-size="9.5" font-weight="bold" textLength="12.6" lengthAdjust="spacingAndGlyphs" stroke="#000" stroke-width="0.25">PA</text>
<line x1="277.6" y1="293.2" x2="271.5" y2="287.6" stroke="#111" stroke-width="0.9"/>
<line x1="271.5" y1="287.6" x2="263.6" y2="287.5" stroke="#111" stroke-width="0.9"/>
<line x1="277.6" y1="293.2" x2="271.5" y2="298.2" stroke="#111" stroke-width="0.9"/>
<line x1="271.5" y1="298.2" x2="263.6" y2="298.2" stroke="#111" stroke-width="0.9"/>
<line x1="277.6" y1="293.2" x2="301.6" y2="293.2" stroke="#111" stroke-width="0.9"/>
<line x1="294.7" y1="293.2" x2="294.7" y2="288.2" stroke="#111" stroke-width="0.9"/>
<circle cx="271.5" cy="287.6" r="2.3" fill="#1e9a1e" stroke="#0a4f0a" stroke-width="0.5"/>
<rect x="261.25" y="285.15" width="4.7" height="4.7" fill="#0808d8" stroke="#00006e" stroke-width="0.5"/>
<circle cx="271.5" cy="298.2" r="2.3" fill="#1e9a1e" stroke="#0a4f0a" stroke-width="0.5"/>
<rect x="261.25" y="295.85" width="4.7" height="4.7" fill="#0808d8" stroke="#00006e" stroke-width="0.5"/>
<circle cx="277.6" cy="293.2" r="2.3" fill="#1e9a1e" stroke="#0a4f0a" stroke-width="0.5"/>
<rect x="283.15" y="290.85" width="4.7" height="4.7" fill="#0808d8" stroke="#00006e" stroke-width="0.5"/>
<rect x="292.35" y="290.85" width="4.7" height="4.7" fill="#0808d8" stroke="#00006e" stroke-width="0.5"/>
<polygon points="292.2,284.95 297.2,284.95 294.7,288.65" fill="#cc3a1e"/>
<text x="302.2" y="297" font-size="9.5" font-weight="bold" textLength="12.6" lengthAdjust="spacingAndGlyphs" stroke="#000" stroke-width="0.25">PA</text>
<line x1="360.3" y1="301.8" x2="354.2" y2="295.8" stroke="#111" stroke-width="0.9"/>
<line x1="360.3" y1="301.8" x2="354.2" y2="306.9" stroke="#111" stroke-width="0.9"/>
<line x1="360.3" y1="301.8" x2="385" y2="301.8" stroke="#111" stroke-width="0.9"/>
<line x1="377.4" y1="301.8" x2="377.4" y2="296.8" stroke="#111" stroke-width="0.9"/>
<circle cx="354.2" cy="295.8" r="2.3" fill="#1e9a1e" stroke="#0a4f0a" stroke-width="0.5"/>
<circle cx="354.2" cy="306.9" r="2.3" fill="#1e9a1e" stroke="#0a4f0a" stroke-width="0.5"/>
<circle cx="360.3" cy="301.8" r="2.3" fill="#1e9a1e" stroke="#0a4f0a" stroke-width="0.5"/>
<rect x="365.85" y="299.45" width="4.7" height="4.7" fill="#0808d8" stroke="#00006e" stroke-width="0.5"/>
<rect x="375.05" y="299.45" width="4.7" height="4.7" fill="#0808d8" stroke="#00006e" stroke-width="0.5"/>
<polygon points="374.9,293.55 379.9,293.55 377.4,297.25" fill="#cc3a1e"/>
<text x="385.6" y="305.4" font-size="9.5" font-weight="bold" textLength="12.6" lengthAdjust="spacingAndGlyphs" stroke="#000" stroke-width="0.25">PA</text>
<line x1="360.3" y1="318.8" x2="354.3" y2="313.1" stroke="#111" stroke-width="0.9"/>
<line x1="360.3" y1="318.8" x2="385" y2="318.8" stroke="#111" stroke-width="0.9"/>
<line x1="377.4" y1="318.8" x2="377.4" y2="313.8" stroke="#111" stroke-width="0.9"/>
<circle cx="354.3" cy="313.1" r="2.3" fill="#1e9a1e" stroke="#0a4f0a" stroke-width="0.5"/>
<circle cx="360.3" cy="318.8" r="2.3" fill="#1e9a1e" stroke="#0a4f0a" stroke-width="0.5"/>
<rect x="365.85" y="316.45" width="4.7" height="4.7" fill="#0808d8" stroke="#00006e" stroke-width="0.5"/>
<rect x="375.05" y="316.45" width="4.7" height="4.7" fill="#0808d8" stroke="#00006e" stroke-width="0.5"/>
<polygon points="374.9,310.55 379.9,310.55 377.4,314.25" fill="#cc3a1e"/>
<text x="385.6" y="322.4" font-size="9.5" font-weight="bold" textLength="12.6" lengthAdjust="spacingAndGlyphs" stroke="#000" stroke-width="0.25">PA</text>
<line x1="360.3" y1="335.4" x2="354.3" y2="329.5" stroke="#111" stroke-width="0.9"/>
<line x1="360.3" y1="335.4" x2="354.3" y2="339.8" stroke="#111" stroke-width="0.9"/>
<line x1="354.3" y1="339.8" x2="348.1" y2="340.2" stroke="#111" stroke-width="0.9"/>
<line x1="360.3" y1="335.4" x2="385" y2="335.4" stroke="#111" stroke-width="0.9"/>
<line x1="377.4" y1="335.4" x2="377.4" y2="330.4" stroke="#111" stroke-width="0.9"/>
<circle cx="354.3" cy="329.5" r="2.3" fill="#1e9a1e" stroke="#0a4f0a" stroke-width="0.5"/>
<circle cx="354.3" cy="339.8" r="2.3" fill="#1e9a1e" stroke="#0a4f0a" stroke-width="0.5"/>
<rect x="345.75" y="337.85" width="4.7" height="4.7" fill="#0808d8" stroke="#00006e" stroke-width="0.5"/>
<circle cx="360.3" cy="335.4" r="2.3" fill="#1e9a1e" stroke="#0a4f0a" stroke-width="0.5"/>
<rect x="365.85" y="333.05" width="4.7" height="4.7" fill="#0808d8" stroke="#00006e" stroke-width="0.5"/>
<rect x="375.05" y="333.05" width="4.7" height="4.7" fill="#0808d8" stroke="#00006e" stroke-width="0.5"/>
<polygon points="374.9,327.15 379.9,327.15 377.4,330.85" fill="#cc3a1e"/>
<text x="385.6" y="339" font-size="9.5" font-weight="bold" textLength="12.6" lengthAdjust="spacingAndGlyphs" stroke="#000" stroke-width="0.25">PA</text>
<line x1="490" y1="279.7" x2="483.9" y2="274.1" stroke="#111" stroke-width="0.9"/>
<line x1="483.9" y1="274.1" x2="476" y2="274" stroke="#111" stroke-width="0.9"/>
<line x1="490" y1="279.7" x2="483.9" y2="284.7" stroke="#111" stroke-width="0.9"/>
<line x1="483.9" y1="284.7" x2="476" y2="284.7" stroke="#111" stroke-width="0.9"/>
<line x1="490" y1="279.7" x2="513.8" y2="279.7" stroke="#111" stroke-width="0.9"/>
<line x1="507.1" y1="279.7" x2="507.1" y2="274.7" stroke="#111" stroke-width="0.9"/>
<circle cx="483.9" cy="274.1" r="2.3" fill="#1e9a1e" stroke="#0a4f0a" stroke-width="0.5"/>
<rect x="473.65" y="271.65" width="4.7" height="4.7" fill="#0808d8" stroke="#00006e" stroke-width="0.5"/>
<circle cx="483.9" cy="284.7" r="2.3" fill="#1e9a1e" stroke="#0a4f0a" stroke-width="0.5"/>
<rect x="473.65" y="282.35" width="4.7" height="4.7" fill="#0808d8" stroke="#00006e" stroke-width="0.5"/>
<circle cx="490" cy="279.7" r="2.3" fill="#1e9a1e" stroke="#0a4f0a" stroke-width="0.5"/>
<rect x="495.55" y="277.35" width="4.7" height="4.7" fill="#0808d8" stroke="#00006e" stroke-width="0.5"/>
<rect x="504.75" y="277.35" width="4.7" height="4.7" fill="#0808d8" stroke="#00006e" stroke-width="0.5"/>
<polygon points="504.6,271.45 509.6,271.45 507.1,275.15" fill="#cc3a1e"/>
<text x="514.4" y="283" font-size="9.5" font-weight="bold" textLength="12.6" lengthAdjust="spacingAndGlyphs" stroke="#000" stroke-width="0.25">PA</text>
<line x1="498.6" y1="350.2" x2="492.5" y2="343.8" stroke="#111" stroke-width="0.9"/>
<line x1="492.5" y1="343.8" x2="485" y2="343.6" stroke="#111" stroke-width="0.9"/>
<line x1="498.6" y1="350.2" x2="492.5" y2="355.6" stroke="#111" stroke-width="0.9"/>
<line x1="498.6" y1="350.2" x2="521.9" y2="350.2" stroke="#111" stroke-width="0.9"/>
<line x1="515.7" y1="350.2" x2="515.7" y2="345.2" stroke="#111" stroke-width="0.9"/>
<circle cx="492.5" cy="343.8" r="2.3" fill="#1e9a1e" stroke="#0a4f0a" stroke-width="0.5"/>
<rect x="482.65" y="341.25" width="4.7" height="4.7" fill="#0808d8" stroke="#00006e" stroke-width="0.5"/>
<circle cx="492.5" cy="355.6" r="2.3" fill="#1e9a1e" stroke="#0a4f0a" stroke-width="0.5"/>
<circle cx="498.6" cy="350.2" r="2.3" fill="#1e9a1e" stroke="#0a4f0a" stroke-width="0.5"/>
<rect x="504.15" y="347.85" width="4.7" height="4.7" fill="#0808d8" stroke="#00006e" stroke-width="0.5"/>
<rect x="513.35" y="347.85" width="4.7" height="4.7" fill="#0808d8" stroke="#00006e" stroke-width="0.5"/>
<polygon points="513.2,341.95 518.2,341.95 515.7,345.65" fill="#cc3a1e"/>
<text x="522.5" y="353.6" font-size="9.5" font-weight="bold" textLength="12.6" lengthAdjust="spacingAndGlyphs" stroke="#000" stroke-width="0.25">PA</text>
<path d="M92.1,422.8 L142,463.5" fill="none" stroke="#333" stroke-width="0.8"/>
<path d="M85,455.4 L126,462.6" fill="none" stroke="#333" stroke-width="0.8"/>
<path d="M171.5,458.4 L183.1,474.2" fill="none" stroke="#333" stroke-width="0.8"/>
<path d="M178.7,422.1 L196.9,474.2" fill="none" stroke="#333" stroke-width="0.8"/>
<path d="M211.4,437.9 L209,453.6" fill="none" stroke="#333" stroke-width="0.8"/>
<path d="M251.6,435.4 L217.4,482.6" fill="none" stroke="#333" stroke-width="0.8"/>
<path d="M272.7,463.3 L260.6,475.4" fill="none" stroke="#333" stroke-width="0.8"/>
<path d="M338,413.2 L320,418.3" fill="none" stroke="#333" stroke-width="0.8"/>
<path d="M374.3,474.2 L358.7,479.5" fill="none" stroke="#333" stroke-width="0.8"/>
<path d="M430.1,415 L442.7,457.8" fill="none" stroke="#333" stroke-width="0.8"/>
<path d="M474.9,437.7 L472.9,478" fill="none" stroke="#333" stroke-width="0.8"/>
<path d="M505.6,441.4 L490.5,484.2" fill="none" stroke="#333" stroke-width="0.8"/>
<text x="98.1" y="440.3" font-size="9.5" font-weight="bold" text-anchor="middle" fill="#111">*</text>
<text x="109.3" y="476.1" font-size="9.5" font-weight="bold" text-anchor="middle" fill="#111">*</text>
<text x="55.8" y="413.7" font-size="9.8" textLength="12.1" lengthAdjust="spacingAndGlyphs" fill="#111" stroke="#111" stroke-width="0.15">N2</text>
<text x="55.1" y="443.4" font-size="9.8" textLength="11.6" lengthAdjust="spacingAndGlyphs" fill="#111" stroke="#111" stroke-width="0.15">N1</text>
<text x="153.5" y="442.5" font-size="9.8" textLength="14" lengthAdjust="spacingAndGlyphs" fill="#111" stroke="#111" stroke-width="0.15">N4</text>
<text x="159.8" y="407.3" font-size="9.8" textLength="12.9" lengthAdjust="spacingAndGlyphs" fill="#111" stroke="#111" stroke-width="0.15">N5</text>
<text x="183.1" y="392.6" font-size="9.8" textLength="68.7" lengthAdjust="spacingAndGlyphs" fill="#111" stroke="#111" stroke-width="0.15">N6-1+N6-2+N9</text>
<text x="255" y="396" font-size="9.8" textLength="50.3" lengthAdjust="spacingAndGlyphs" fill="#111" stroke="#111" stroke-width="0.15">N7-1+N7-2</text>
<text x="271" y="447.5" font-size="9.8" textLength="12.6" lengthAdjust="spacingAndGlyphs" fill="#111" stroke="#111" stroke-width="0.15">N8</text>
<text x="328.5" y="392.6" font-size="9.8" textLength="78.1" lengthAdjust="spacingAndGlyphs" fill="#111" stroke="#111" stroke-width="0.15">N9-1+N9-2+N9-3</text>
<text x="390.9" y="462.8" font-size="9.8" textLength="17.7" lengthAdjust="spacingAndGlyphs" fill="#111" stroke="#111" stroke-width="0.15">N10</text>
<text x="421.2" y="394.2" font-size="9.8" textLength="16.9" lengthAdjust="spacingAndGlyphs" fill="#111" stroke="#111" stroke-width="0.15">N11</text>
<text x="460.8" y="421.3" font-size="9.8" textLength="18.4" lengthAdjust="spacingAndGlyphs" fill="#111" stroke="#111" stroke-width="0.15">N13</text>
<text x="507.6" y="401.1" font-size="9.8" textLength="61.5" lengthAdjust="spacingAndGlyphs" fill="#111" stroke="#111" stroke-width="0.15">N14-1+N14-2</text>
<text x="543.4" y="457.8" font-size="9.8" textLength="18.9" lengthAdjust="spacingAndGlyphs" fill="#111" stroke="#111" stroke-width="0.15">N15</text>
<line x1="51.5" y1="424.1" x2="46" y2="418.6" stroke="#111" stroke-width="0.9"/>
<line x1="46" y1="418.6" x2="40.1" y2="413.1" stroke="#111" stroke-width="0.9"/>
<line x1="40.1" y1="413.1" x2="33" y2="413.1" stroke="#111" stroke-width="0.9"/>
<line x1="46" y1="418.6" x2="39.5" y2="421.9" stroke="#111" stroke-width="0.9"/>
<line x1="39.5" y1="421.9" x2="32.7" y2="421.9" stroke="#111" stroke-width="0.9"/>
<line x1="51.5" y1="424.1" x2="46" y2="429.2" stroke="#111" stroke-width="0.9"/>
<line x1="46" y1="429.2" x2="39.4" y2="429.5" stroke="#111" stroke-width="0.9"/>
<line x1="39.4" y1="429.5" x2="32.7" y2="429.5" stroke="#111" stroke-width="0.9"/>
<line x1="51.5" y1="424.1" x2="77" y2="424.1" stroke="#111" stroke-width="0.9"/>
<circle cx="46" cy="418.6" r="2.3" fill="#1e9a1e" stroke="#0a4f0a" stroke-width="0.5"/>
<circle cx="40.1" cy="413.1" r="2.3" fill="#1e9a1e" stroke="#0a4f0a" stroke-width="0.5"/>
<circle cx="33" cy="413.1" r="2.3" fill="#1e9a1e" stroke="#0a4f0a" stroke-width="0.5"/>
<circle cx="39.5" cy="421.9" r="2.3" fill="#1e9a1e" stroke="#0a4f0a" stroke-width="0.5"/>
<circle cx="32.7" cy="421.9" r="2.3" fill="#1e9a1e" stroke="#0a4f0a" stroke-width="0.5"/>
<circle cx="46" cy="429.2" r="2.3" fill="#1e9a1e" stroke="#0a4f0a" stroke-width="0.5"/>
<circle cx="39.4" cy="429.5" r="2.3" fill="#1e9a1e" stroke="#0a4f0a" stroke-width="0.5"/>
<circle cx="32.7" cy="429.5" r="2.3" fill="#1e9a1e" stroke="#0a4f0a" stroke-width="0.5"/>
<circle cx="51.5" cy="424.1" r="2.3" fill="#1e9a1e" stroke="#0a4f0a" stroke-width="0.5"/>
<rect x="57.05" y="421.75" width="4.7" height="4.7" fill="#0808d8" stroke="#00006e" stroke-width="0.5"/>
<rect x="66.25" y="421.75" width="4.7" height="4.7" fill="#0808d8" stroke="#00006e" stroke-width="0.5"/>
<text x="77.6" y="427.2" font-size="9.5" font-weight="bold" textLength="12.6" lengthAdjust="spacingAndGlyphs" stroke="#000" stroke-width="0.25">PA</text>
<line x1="51.5" y1="451.2" x2="45.5" y2="445.2" stroke="#111" stroke-width="0.9"/>
<line x1="45.5" y1="445.2" x2="39.5" y2="440" stroke="#111" stroke-width="0.9"/>
<line x1="39.5" y1="440" x2="32.6" y2="440" stroke="#111" stroke-width="0.9"/>
<line x1="45.5" y1="445.2" x2="39.5" y2="448.5" stroke="#111" stroke-width="0.9"/>
<line x1="51.5" y1="451.2" x2="45.5" y2="456.2" stroke="#111" stroke-width="0.9"/>
<line x1="45.5" y1="456.2" x2="39" y2="456.3" stroke="#111" stroke-width="0.9"/>
<line x1="39" y1="456.3" x2="32.5" y2="456.3" stroke="#111" stroke-width="0.9"/>
<line x1="51.5" y1="451.2" x2="75.8" y2="451.2" stroke="#111" stroke-width="0.9"/>
<circle cx="45.5" cy="445.2" r="2.3" fill="#1e9a1e" stroke="#0a4f0a" stroke-width="0.5"/>
<circle cx="39.5" cy="440" r="2.3" fill="#1e9a1e" stroke="#0a4f0a" stroke-width="0.5"/>
<circle cx="32.6" cy="440" r="2.3" fill="#1e9a1e" stroke="#0a4f0a" stroke-width="0.5"/>
<circle cx="39.5" cy="448.5" r="2.3" fill="#1e9a1e" stroke="#0a4f0a" stroke-width="0.5"/>
<circle cx="45.5" cy="456.2" r="2.3" fill="#1e9a1e" stroke="#0a4f0a" stroke-width="0.5"/>
<circle cx="39" cy="456.3" r="2.3" fill="#1e9a1e" stroke="#0a4f0a" stroke-width="0.5"/>
<circle cx="32.5" cy="456.3" r="2.3" fill="#1e9a1e" stroke="#0a4f0a" stroke-width="0.5"/>
<circle cx="51.5" cy="451.2" r="2.3" fill="#1e9a1e" stroke="#0a4f0a" stroke-width="0.5"/>
<rect x="57.05" y="448.85" width="4.7" height="4.7" fill="#0808d8" stroke="#00006e" stroke-width="0.5"/>
<rect x="66.25" y="448.85" width="4.7" height="4.7" fill="#0808d8" stroke="#00006e" stroke-width="0.5"/>
<text x="76.4" y="454.3" font-size="9.5" font-weight="bold" textLength="12.6" lengthAdjust="spacingAndGlyphs" stroke="#000" stroke-width="0.25">PA</text>
<line x1="150.1" y1="451.9" x2="144.1" y2="446.2" stroke="#111" stroke-width="0.9"/>
<line x1="144.1" y1="446.2" x2="138.2" y2="440.9" stroke="#111" stroke-width="0.9"/>
<line x1="144.1" y1="446.2" x2="138.2" y2="449.9" stroke="#111" stroke-width="0.9"/>
<line x1="150.1" y1="451.9" x2="144.1" y2="456.4" stroke="#111" stroke-width="0.9"/>
<line x1="150.1" y1="451.9" x2="173.3" y2="451.9" stroke="#111" stroke-width="0.9"/>
<circle cx="144.1" cy="446.2" r="2.3" fill="#1e9a1e" stroke="#0a4f0a" stroke-width="0.5"/>
<circle cx="138.2" cy="440.9" r="2.3" fill="#1e9a1e" stroke="#0a4f0a" stroke-width="0.5"/>
<circle cx="138.2" cy="449.9" r="2.3" fill="#1e9a1e" stroke="#0a4f0a" stroke-width="0.5"/>
<circle cx="144.1" cy="456.4" r="2.3" fill="#1e9a1e" stroke="#0a4f0a" stroke-width="0.5"/>
<circle cx="150.1" cy="451.9" r="2.3" fill="#1e9a1e" stroke="#0a4f0a" stroke-width="0.5"/>
<rect x="155.65" y="449.55" width="4.7" height="4.7" fill="#0808d8" stroke="#00006e" stroke-width="0.5"/>
<rect x="164.85" y="449.55" width="4.7" height="4.7" fill="#0808d8" stroke="#00006e" stroke-width="0.5"/>
<text x="173.9" y="455" font-size="9.5" font-weight="bold" textLength="12.6" lengthAdjust="spacingAndGlyphs" stroke="#000" stroke-width="0.25">PA</text>
<line x1="154" y1="414.2" x2="148.7" y2="408.2" stroke="#111" stroke-width="0.9"/>
<line x1="154" y1="414.2" x2="148.7" y2="419" stroke="#111" stroke-width="0.9"/>
<line x1="154" y1="414.2" x2="177.6" y2="414.2" stroke="#111" stroke-width="0.9"/>
<circle cx="148.7" cy="408.2" r="2.3" fill="#1e9a1e" stroke="#0a4f0a" stroke-width="0.5"/>
<circle cx="148.7" cy="419" r="2.3" fill="#1e9a1e" stroke="#0a4f0a" stroke-width="0.5"/>
<circle cx="154" cy="414.2" r="2.3" fill="#1e9a1e" stroke="#0a4f0a" stroke-width="0.5"/>
<rect x="159.55" y="411.85" width="4.7" height="4.7" fill="#0808d8" stroke="#00006e" stroke-width="0.5"/>
<rect x="168.75" y="411.85" width="4.7" height="4.7" fill="#0808d8" stroke="#00006e" stroke-width="0.5"/>
<text x="178.2" y="417.4" font-size="9.5" font-weight="bold" textLength="12.6" lengthAdjust="spacingAndGlyphs" stroke="#000" stroke-width="0.25">PA</text>
<line x1="211.4" y1="409.6" x2="206.5" y2="404.5" stroke="#111" stroke-width="0.9"/>
<line x1="206.5" y1="404.5" x2="201.4" y2="399.8" stroke="#111" stroke-width="0.9"/>
<line x1="206.5" y1="404.5" x2="201.2" y2="407.6" stroke="#111" stroke-width="0.9"/>
<line x1="201.2" y1="407.6" x2="195.3" y2="407.5" stroke="#111" stroke-width="0.9"/>
<line x1="211.4" y1="409.6" x2="206.5" y2="413.8" stroke="#111" stroke-width="0.9"/>
<line x1="211.4" y1="409.6" x2="232.6" y2="409.6" stroke="#111" stroke-width="0.9"/>
<circle cx="206.5" cy="404.5" r="2.3" fill="#1e9a1e" stroke="#0a4f0a" stroke-width="0.5"/>
<circle cx="201.4" cy="399.8" r="2.3" fill="#1e9a1e" stroke="#0a4f0a" stroke-width="0.5"/>
<circle cx="201.2" cy="407.6" r="2.3" fill="#1e9a1e" stroke="#0a4f0a" stroke-width="0.5"/>
<circle cx="195.3" cy="407.5" r="2.3" fill="#1e9a1e" stroke="#0a4f0a" stroke-width="0.5"/>
<circle cx="206.5" cy="413.8" r="2.3" fill="#1e9a1e" stroke="#0a4f0a" stroke-width="0.5"/>
<circle cx="211.4" cy="409.6" r="2.3" fill="#1e9a1e" stroke="#0a4f0a" stroke-width="0.5"/>
<rect x="216.46" y="407.25" width="4.7" height="4.7" fill="#0808d8" stroke="#00006e" stroke-width="0.5"/>
<rect x="224.85" y="407.25" width="4.7" height="4.7" fill="#0808d8" stroke="#00006e" stroke-width="0.5"/>
<text x="233.2" y="412.7" font-size="9.5" font-weight="bold" textLength="12.6" lengthAdjust="spacingAndGlyphs" stroke="#000" stroke-width="0.25">PA</text>
<line x1="209" y1="430.6" x2="202.9" y2="425.1" stroke="#111" stroke-width="0.9"/>
<line x1="202.9" y1="425.1" x2="197.4" y2="419" stroke="#111" stroke-width="0.9"/>
<line x1="202.9" y1="425.1" x2="196.8" y2="428.2" stroke="#111" stroke-width="0.9"/>
<line x1="209" y1="430.6" x2="202.9" y2="435.5" stroke="#111" stroke-width="0.9"/>
<line x1="202.9" y1="435.5" x2="196.6" y2="435.5" stroke="#111" stroke-width="0.9"/>
<line x1="196.6" y1="435.5" x2="190.2" y2="435.5" stroke="#111" stroke-width="0.9"/>
<line x1="209" y1="430.6" x2="232.6" y2="430.6" stroke="#111" stroke-width="0.9"/>
<circle cx="202.9" cy="425.1" r="2.3" fill="#1e9a1e" stroke="#0a4f0a" stroke-width="0.5"/>
<circle cx="197.4" cy="419" r="2.3" fill="#1e9a1e" stroke="#0a4f0a" stroke-width="0.5"/>
<circle cx="196.8" cy="428.2" r="2.3" fill="#1e9a1e" stroke="#0a4f0a" stroke-width="0.5"/>
<circle cx="202.9" cy="435.5" r="2.3" fill="#1e9a1e" stroke="#0a4f0a" stroke-width="0.5"/>
<rect x="194.25" y="433.15" width="4.7" height="4.7" fill="#0808d8" stroke="#00006e" stroke-width="0.5"/>
<circle cx="190.2" cy="435.5" r="2.3" fill="#f2ec1a" stroke="#6e6800" stroke-width="0.5"/>
<circle cx="209" cy="430.6" r="2.3" fill="#1e9a1e" stroke="#0a4f0a" stroke-width="0.5"/>
<rect x="214.55" y="428.25" width="4.7" height="4.7" fill="#0808d8" stroke="#00006e" stroke-width="0.5"/>
<rect x="223.75" y="428.25" width="4.7" height="4.7" fill="#0808d8" stroke="#00006e" stroke-width="0.5"/>
<text x="233.2" y="433.7" font-size="9.5" font-weight="bold" textLength="12.6" lengthAdjust="spacingAndGlyphs" stroke="#000" stroke-width="0.25">PA</text>
<line x1="271.6" y1="405.8" x2="265.8" y2="400" stroke="#111" stroke-width="0.9"/>
<line x1="265.8" y1="400" x2="259.6" y2="403.4" stroke="#111" stroke-width="0.9"/>
<line x1="271.6" y1="405.8" x2="265.8" y2="410.6" stroke="#111" stroke-width="0.9"/>
<line x1="265.8" y1="410.6" x2="259.4" y2="410.9" stroke="#111" stroke-width="0.9"/>
<line x1="259.4" y1="410.9" x2="253" y2="410.9" stroke="#111" stroke-width="0.9"/>
<line x1="271.6" y1="405.8" x2="295.3" y2="405.8" stroke="#111" stroke-width="0.9"/>
<circle cx="265.8" cy="400" r="2.3" fill="#1e9a1e" stroke="#0a4f0a" stroke-width="0.5"/>
<circle cx="259.6" cy="403.4" r="2.3" fill="#1e9a1e" stroke="#0a4f0a" stroke-width="0.5"/>
<circle cx="265.8" cy="410.6" r="2.3" fill="#1e9a1e" stroke="#0a4f0a" stroke-width="0.5"/>
<rect x="257.05" y="408.55" width="4.7" height="4.7" fill="#0808d8" stroke="#00006e" stroke-width="0.5"/>
<circle cx="253" cy="410.9" r="2.3" fill="#f2ec1a" stroke="#6e6800" stroke-width="0.5"/>
<circle cx="271.6" cy="405.8" r="2.3" fill="#1e9a1e" stroke="#0a4f0a" stroke-width="0.5"/>
<rect x="277.15" y="403.45" width="4.7" height="4.7" fill="#0808d8" stroke="#00006e" stroke-width="0.5"/>
<rect x="286.35" y="403.45" width="4.7" height="4.7" fill="#0808d8" stroke="#00006e" stroke-width="0.5"/>
<text x="295.9" y="409.2" font-size="9.5" font-weight="bold" textLength="12.6" lengthAdjust="spacingAndGlyphs" stroke="#000" stroke-width="0.25">PA</text>
<line x1="271.6" y1="424" x2="265.8" y2="418.2" stroke="#111" stroke-width="0.9"/>
<line x1="271.6" y1="424" x2="265.8" y2="428.2" stroke="#111" stroke-width="0.9"/>
<line x1="265.8" y1="428.2" x2="259.2" y2="428.2" stroke="#111" stroke-width="0.9"/>
<line x1="259.2" y1="428.2" x2="252.8" y2="428.3" stroke="#111" stroke-width="0.9"/>
<line x1="271.6" y1="424" x2="295.3" y2="424" stroke="#111" stroke-width="0.9"/>
<circle cx="265.8" cy="418.2" r="2.3" fill="#1e9a1e" stroke="#0a4f0a" stroke-width="0.5"/>
<circle cx="265.8" cy="428.2" r="2.3" fill="#1e9a1e" stroke="#0a4f0a" stroke-width="0.5"/>
<rect x="256.85" y="425.85" width="4.7" height="4.7" fill="#0808d8" stroke="#00006e" stroke-width="0.5"/>
<circle cx="252.8" cy="428.3" r="2.3" fill="#f2ec1a" stroke="#6e6800" stroke-width="0.5"/>
<circle cx="271.6" cy="424" r="2.3" fill="#1e9a1e" stroke="#0a4f0a" stroke-width="0.5"/>
<rect x="277.15" y="421.65" width="4.7" height="4.7" fill="#0808d8" stroke="#00006e" stroke-width="0.5"/>
<rect x="286.35" y="421.65" width="4.7" height="4.7" fill="#0808d8" stroke="#00006e" stroke-width="0.5"/>
<text x="295.9" y="427.6" font-size="9.5" font-weight="bold" textLength="12.6" lengthAdjust="spacingAndGlyphs" stroke="#000" stroke-width="0.25">PA</text>
<line x1="265.4" y1="455.1" x2="259.3" y2="449.5" stroke="#111" stroke-width="0.9"/>
<line x1="259.3" y1="449.5" x2="251.4" y2="449.4" stroke="#111" stroke-width="0.9"/>
<line x1="265.4" y1="455.1" x2="259.3" y2="460.1" stroke="#111" stroke-width="0.9"/>
<line x1="259.3" y1="460.1" x2="251.4" y2="460.1" stroke="#111" stroke-width="0.9"/>
<line x1="265.4" y1="455.1" x2="289.7" y2="455.1" stroke="#111" stroke-width="0.9"/>
<circle cx="259.3" cy="449.5" r="2.3" fill="#1e9a1e" stroke="#0a4f0a" stroke-width="0.5"/>
<rect x="249.05" y="447.05" width="4.7" height="4.7" fill="#0808d8" stroke="#00006e" stroke-width="0.5"/>
<circle cx="259.3" cy="460.1" r="2.3" fill="#1e9a1e" stroke="#0a4f0a" stroke-width="0.5"/>
<rect x="249.05" y="457.75" width="4.7" height="4.7" fill="#0808d8" stroke="#00006e" stroke-width="0.5"/>
<circle cx="265.4" cy="455.1" r="2.3" fill="#1e9a1e" stroke="#0a4f0a" stroke-width="0.5"/>
<rect x="270.95" y="452.75" width="4.7" height="4.7" fill="#0808d8" stroke="#00006e" stroke-width="0.5"/>
<rect x="280.15" y="452.75" width="4.7" height="4.7" fill="#0808d8" stroke="#00006e" stroke-width="0.5"/>
<text x="290.3" y="458.4" font-size="9.5" font-weight="bold" textLength="12.6" lengthAdjust="spacingAndGlyphs" stroke="#000" stroke-width="0.25">PA</text>
<line x1="352.7" y1="405.2" x2="346.6" y2="399.2" stroke="#111" stroke-width="0.9"/>
<line x1="352.7" y1="405.2" x2="346.6" y2="410.3" stroke="#111" stroke-width="0.9"/>
<line x1="352.7" y1="405.2" x2="377" y2="405.2" stroke="#111" stroke-width="0.9"/>
<line x1="369.8" y1="405.2" x2="369.8" y2="400.2" stroke="#111" stroke-width="0.9"/>
<circle cx="346.6" cy="399.2" r="2.3" fill="#1e9a1e" stroke="#0a4f0a" stroke-width="0.5"/>
<circle cx="346.6" cy="410.3" r="2.3" fill="#1e9a1e" stroke="#0a4f0a" stroke-width="0.5"/>
<circle cx="352.7" cy="405.2" r="2.3" fill="#1e9a1e" stroke="#0a4f0a" stroke-width="0.5"/>
<rect x="358.25" y="402.85" width="4.7" height="4.7" fill="#0808d8" stroke="#00006e" stroke-width="0.5"/>
<rect x="367.45" y="402.85" width="4.7" height="4.7" fill="#0808d8" stroke="#00006e" stroke-width="0.5"/>
<polygon points="367.3,396.95 372.3,396.95 369.8,400.65" fill="#cc3a1e"/>
<text x="377.6" y="409.3" font-size="9.5" font-weight="bold" textLength="12.6" lengthAdjust="spacingAndGlyphs" stroke="#000" stroke-width="0.25">PA</text>
<line x1="352.7" y1="424.1" x2="346.7" y2="418.4" stroke="#111" stroke-width="0.9"/>
<line x1="352.7" y1="424.1" x2="377" y2="424.1" stroke="#111" stroke-width="0.9"/>
<line x1="369.8" y1="424.1" x2="369.8" y2="419.1" stroke="#111" stroke-width="0.9"/>
<circle cx="346.7" cy="418.4" r="2.3" fill="#1e9a1e" stroke="#0a4f0a" stroke-width="0.5"/>
<circle cx="352.7" cy="424.1" r="2.3" fill="#1e9a1e" stroke="#0a4f0a" stroke-width="0.5"/>
<rect x="358.25" y="421.75" width="4.7" height="4.7" fill="#0808d8" stroke="#00006e" stroke-width="0.5"/>
<rect x="367.45" y="421.75" width="4.7" height="4.7" fill="#0808d8" stroke="#00006e" stroke-width="0.5"/>
<polygon points="367.3,415.85 372.3,415.85 369.8,419.55" fill="#cc3a1e"/>
<text x="377.6" y="427.2" font-size="9.5" font-weight="bold" textLength="12.6" lengthAdjust="spacingAndGlyphs" stroke="#000" stroke-width="0.25">PA</text>
<line x1="352.7" y1="439.8" x2="346.7" y2="433.9" stroke="#111" stroke-width="0.9"/>
<line x1="352.7" y1="439.8" x2="346.7" y2="444.2" stroke="#111" stroke-width="0.9"/>
<line x1="346.7" y1="444.2" x2="340.5" y2="444.6" stroke="#111" stroke-width="0.9"/>
<line x1="352.7" y1="439.8" x2="377" y2="439.8" stroke="#111" stroke-width="0.9"/>
<line x1="369.8" y1="439.8" x2="369.8" y2="434.8" stroke="#111" stroke-width="0.9"/>
<circle cx="346.7" cy="433.9" r="2.3" fill="#1e9a1e" stroke="#0a4f0a" stroke-width="0.5"/>
<circle cx="346.7" cy="444.2" r="2.3" fill="#1e9a1e" stroke="#0a4f0a" stroke-width="0.5"/>
<rect x="338.15" y="442.25" width="4.7" height="4.7" fill="#0808d8" stroke="#00006e" stroke-width="0.5"/>
<circle cx="352.7" cy="439.8" r="2.3" fill="#1e9a1e" stroke="#0a4f0a" stroke-width="0.5"/>
<rect x="358.25" y="437.45" width="4.7" height="4.7" fill="#0808d8" stroke="#00006e" stroke-width="0.5"/>
<rect x="367.45" y="437.45" width="4.7" height="4.7" fill="#0808d8" stroke="#00006e" stroke-width="0.5"/>
<polygon points="367.3,431.55 372.3,431.55 369.8,435.25" fill="#cc3a1e"/>
<text x="377.6" y="442.6" font-size="9.5" font-weight="bold" textLength="12.6" lengthAdjust="spacingAndGlyphs" stroke="#000" stroke-width="0.25">PA</text>
<line x1="393" y1="475.2" x2="387.4" y2="469.4" stroke="#111" stroke-width="0.9"/>
<line x1="393" y1="475.2" x2="387.4" y2="480.2" stroke="#111" stroke-width="0.9"/>
<line x1="387.4" y1="480.2" x2="379.5" y2="480.3" stroke="#111" stroke-width="0.9"/>
<line x1="379.5" y1="480.3" x2="372.2" y2="480.2" stroke="#111" stroke-width="0.9"/>
<line x1="393" y1="475.2" x2="417.3" y2="475.2" stroke="#111" stroke-width="0.9"/>
<line x1="410.1" y1="475.2" x2="410.1" y2="470.2" stroke="#111" stroke-width="0.9"/>
<circle cx="387.4" cy="469.4" r="2.3" fill="#1e9a1e" stroke="#0a4f0a" stroke-width="0.5"/>
<circle cx="387.4" cy="480.2" r="2.3" fill="#1e9a1e" stroke="#0a4f0a" stroke-width="0.5"/>
<rect x="377.15" y="477.95" width="4.7" height="4.7" fill="#0808d8" stroke="#00006e" stroke-width="0.5"/>
<circle cx="372.2" cy="480.2" r="2.3" fill="#f2ec1a" stroke="#6e6800" stroke-width="0.5"/>
<circle cx="393" cy="475.2" r="2.3" fill="#1e9a1e" stroke="#0a4f0a" stroke-width="0.5"/>
<rect x="398.55" y="472.85" width="4.7" height="4.7" fill="#0808d8" stroke="#00006e" stroke-width="0.5"/>
<rect x="407.75" y="472.85" width="4.7" height="4.7" fill="#0808d8" stroke="#00006e" stroke-width="0.5"/>
<polygon points="407.6,466.95 412.6,466.95 410.1,470.65" fill="#cc3a1e"/>
<text x="417.9" y="478.6" font-size="9.5" font-weight="bold" textLength="12.6" lengthAdjust="spacingAndGlyphs" stroke="#000" stroke-width="0.25">PA</text>
<line x1="424.5" y1="405.7" x2="418.4" y2="400.1" stroke="#111" stroke-width="0.9"/>
<line x1="418.4" y1="400.1" x2="410.5" y2="400" stroke="#111" stroke-width="0.9"/>
<line x1="424.5" y1="405.7" x2="418.4" y2="410.7" stroke="#111" stroke-width="0.9"/>
<line x1="418.4" y1="410.7" x2="410.5" y2="410.7" stroke="#111" stroke-width="0.9"/>
<line x1="424.5" y1="405.7" x2="447.6" y2="405.7" stroke="#111" stroke-width="0.9"/>
<line x1="441.6" y1="405.7" x2="441.6" y2="400.7" stroke="#111" stroke-width="0.9"/>
<circle cx="418.4" cy="400.1" r="2.3" fill="#1e9a1e" stroke="#0a4f0a" stroke-width="0.5"/>
<rect x="408.15" y="397.65" width="4.7" height="4.7" fill="#0808d8" stroke="#00006e" stroke-width="0.5"/>
<circle cx="418.4" cy="410.7" r="2.3" fill="#1e9a1e" stroke="#0a4f0a" stroke-width="0.5"/>
<rect x="408.15" y="408.35" width="4.7" height="4.7" fill="#0808d8" stroke="#00006e" stroke-width="0.5"/>
<circle cx="424.5" cy="405.7" r="2.3" fill="#1e9a1e" stroke="#0a4f0a" stroke-width="0.5"/>
<rect x="430.05" y="403.35" width="4.7" height="4.7" fill="#0808d8" stroke="#00006e" stroke-width="0.5"/>
<rect x="439.25" y="403.35" width="4.7" height="4.7" fill="#0808d8" stroke="#00006e" stroke-width="0.5"/>
<polygon points="439.1,397.45 444.1,397.45 441.6,401.15" fill="#cc3a1e"/>
<text x="448.2" y="409.1" font-size="9.5" font-weight="bold" textLength="12.6" lengthAdjust="spacingAndGlyphs" stroke="#000" stroke-width="0.25">PA</text>
<line x1="463.3" y1="431.4" x2="457.7" y2="425.8" stroke="#111" stroke-width="0.9"/>
<line x1="457.7" y1="425.8" x2="449.7" y2="425.8" stroke="#111" stroke-width="0.9"/>
<line x1="449.7" y1="425.8" x2="442.2" y2="425.8" stroke="#111" stroke-width="0.9"/>
<line x1="463.3" y1="431.4" x2="457.7" y2="435.9" stroke="#111" stroke-width="0.9"/>
<line x1="457.7" y1="435.9" x2="449.7" y2="435.9" stroke="#111" stroke-width="0.9"/>
<line x1="463.3" y1="431.4" x2="487.9" y2="431.4" stroke="#111" stroke-width="0.9"/>
<line x1="480.4" y1="431.4" x2="480.4" y2="426.4" stroke="#111" stroke-width="0.9"/>
<circle cx="457.7" cy="425.8" r="2.3" fill="#1e9a1e" stroke="#0a4f0a" stroke-width="0.5"/>
<rect x="447.35" y="423.45" width="4.7" height="4.7" fill="#0808d8" stroke="#00006e" stroke-width="0.5"/>
<circle cx="442.2" cy="425.8" r="2.3" fill="#f2ec1a" stroke="#6e6800" stroke-width="0.5"/>
<circle cx="457.7" cy="435.9" r="2.3" fill="#1e9a1e" stroke="#0a4f0a" stroke-width="0.5"/>
<rect x="447.35" y="433.55" width="4.7" height="4.7" fill="#0808d8" stroke="#00006e" stroke-width="0.5"/>
<circle cx="463.3" cy="431.4" r="2.3" fill="#1e9a1e" stroke="#0a4f0a" stroke-width="0.5"/>
<rect x="468.85" y="429.05" width="4.7" height="4.7" fill="#0808d8" stroke="#00006e" stroke-width="0.5"/>
<rect x="478.05" y="429.05" width="4.7" height="4.7" fill="#0808d8" stroke="#00006e" stroke-width="0.5"/>
<polygon points="477.9,423.15 482.9,423.15 480.4,426.85" fill="#cc3a1e"/>
<text x="488.5" y="434.5" font-size="9.5" font-weight="bold" textLength="12.6" lengthAdjust="spacingAndGlyphs" stroke="#000" stroke-width="0.25">PA</text>
<line x1="527.8" y1="413.7" x2="522" y2="408.2" stroke="#111" stroke-width="0.9"/>
<line x1="522" y1="408.2" x2="514.4" y2="408.2" stroke="#111" stroke-width="0.9"/>
<line x1="514.4" y1="408.2" x2="506.9" y2="408.2" stroke="#111" stroke-width="0.9"/>
<line x1="527.8" y1="413.7" x2="522" y2="419.3" stroke="#111" stroke-width="0.9"/>
<line x1="527.8" y1="413.7" x2="550.4" y2="413.7" stroke="#111" stroke-width="0.9"/>
<line x1="544.62" y1="413.7" x2="544.62" y2="408.7" stroke="#111" stroke-width="0.9"/>
<circle cx="522" cy="408.2" r="2.3" fill="#1e9a1e" stroke="#0a4f0a" stroke-width="0.5"/>
<rect x="512.05" y="405.85" width="4.7" height="4.7" fill="#0808d8" stroke="#00006e" stroke-width="0.5"/>
<circle cx="506.9" cy="408.2" r="2.3" fill="#f2ec1a" stroke="#6e6800" stroke-width="0.5"/>
<circle cx="522" cy="419.3" r="2.3" fill="#1e9a1e" stroke="#0a4f0a" stroke-width="0.5"/>
<circle cx="527.8" cy="413.7" r="2.3" fill="#1e9a1e" stroke="#0a4f0a" stroke-width="0.5"/>
<rect x="533.34" y="411.35" width="4.7" height="4.7" fill="#0808d8" stroke="#00006e" stroke-width="0.5"/>
<rect x="542.27" y="411.35" width="4.7" height="4.7" fill="#0808d8" stroke="#00006e" stroke-width="0.5"/>
<polygon points="542.12,405.45 547.12,405.45 544.62,409.15" fill="#cc3a1e"/>
<text x="551" y="416.8" font-size="9.5" font-weight="bold" textLength="12.6" lengthAdjust="spacingAndGlyphs" stroke="#000" stroke-width="0.25">PA</text>
<line x1="528.3" y1="433.4" x2="522.2" y2="427.6" stroke="#111" stroke-width="0.9"/>
<line x1="522.2" y1="427.6" x2="514.5" y2="427.6" stroke="#111" stroke-width="0.9"/>
<line x1="528.3" y1="433.4" x2="522.2" y2="438.4" stroke="#111" stroke-width="0.9"/>
<line x1="522.2" y1="438.4" x2="514.5" y2="438.4" stroke="#111" stroke-width="0.9"/>
<line x1="514.5" y1="438.4" x2="507" y2="438.4" stroke="#111" stroke-width="0.9"/>
<line x1="528.3" y1="433.4" x2="552.4" y2="433.4" stroke="#111" stroke-width="0.9"/>
<line x1="545.4" y1="433.4" x2="545.4" y2="428.4" stroke="#111" stroke-width="0.9"/>
<circle cx="522.2" cy="427.6" r="2.3" fill="#1e9a1e" stroke="#0a4f0a" stroke-width="0.5"/>
<rect x="512.15" y="425.25" width="4.7" height="4.7" fill="#0808d8" stroke="#00006e" stroke-width="0.5"/>
<circle cx="522.2" cy="438.4" r="2.3" fill="#1e9a1e" stroke="#0a4f0a" stroke-width="0.5"/>
<rect x="512.15" y="436.05" width="4.7" height="4.7" fill="#0808d8" stroke="#00006e" stroke-width="0.5"/>
<circle cx="507" cy="438.4" r="2.3" fill="#f2ec1a" stroke="#6e6800" stroke-width="0.5"/>
<circle cx="528.3" cy="433.4" r="2.3" fill="#1e9a1e" stroke="#0a4f0a" stroke-width="0.5"/>
<rect x="533.85" y="431.05" width="4.7" height="4.7" fill="#0808d8" stroke="#00006e" stroke-width="0.5"/>
<rect x="543.05" y="431.05" width="4.7" height="4.7" fill="#0808d8" stroke="#00006e" stroke-width="0.5"/>
<polygon points="542.9,425.15 547.9,425.15 545.4,428.85" fill="#cc3a1e"/>
<text x="553" y="436.7" font-size="9.5" font-weight="bold" textLength="12.6" lengthAdjust="spacingAndGlyphs" stroke="#000" stroke-width="0.25">PA</text>
<line x1="546.5" y1="469.3" x2="540.7" y2="463.3" stroke="#111" stroke-width="0.9"/>
<line x1="540.7" y1="463.3" x2="533.3" y2="463.4" stroke="#111" stroke-width="0.9"/>
<line x1="533.3" y1="463.4" x2="525.6" y2="463.5" stroke="#111" stroke-width="0.9"/>
<line x1="546.5" y1="469.3" x2="540.7" y2="473.9" stroke="#111" stroke-width="0.9"/>
<line x1="540.7" y1="473.9" x2="533.3" y2="474" stroke="#111" stroke-width="0.9"/>
<line x1="533.3" y1="474" x2="525.6" y2="473.9" stroke="#111" stroke-width="0.9"/>
<line x1="546.5" y1="469.3" x2="570" y2="469.3" stroke="#111" stroke-width="0.9"/>
<line x1="563.6" y1="469.3" x2="563.6" y2="464.3" stroke="#111" stroke-width="0.9"/>
<circle cx="540.7" cy="463.3" r="2.3" fill="#1e9a1e" stroke="#0a4f0a" stroke-width="0.5"/>
<rect x="530.95" y="461.05" width="4.7" height="4.7" fill="#0808d8" stroke="#00006e" stroke-width="0.5"/>
<circle cx="525.6" cy="463.5" r="2.3" fill="#f2ec1a" stroke="#6e6800" stroke-width="0.5"/>
<circle cx="540.7" cy="473.9" r="2.3" fill="#1e9a1e" stroke="#0a4f0a" stroke-width="0.5"/>
<rect x="530.95" y="471.65" width="4.7" height="4.7" fill="#0808d8" stroke="#00006e" stroke-width="0.5"/>
<circle cx="525.6" cy="473.9" r="2.3" fill="#f2ec1a" stroke="#6e6800" stroke-width="0.5"/>
<circle cx="546.5" cy="469.3" r="2.3" fill="#1e9a1e" stroke="#0a4f0a" stroke-width="0.5"/>
<rect x="552.05" y="466.95" width="4.7" height="4.7" fill="#0808d8" stroke="#00006e" stroke-width="0.5"/>
<rect x="561.25" y="466.95" width="4.7" height="4.7" fill="#0808d8" stroke="#00006e" stroke-width="0.5"/>
<polygon points="561.1,461.05 566.1,461.05 563.6,464.75" fill="#cc3a1e"/>
<text x="570.6" y="472.4" font-size="9.5" font-weight="bold" textLength="12.6" lengthAdjust="spacingAndGlyphs" stroke="#000" stroke-width="0.25">PA</text>
</svg>
</body></html>
